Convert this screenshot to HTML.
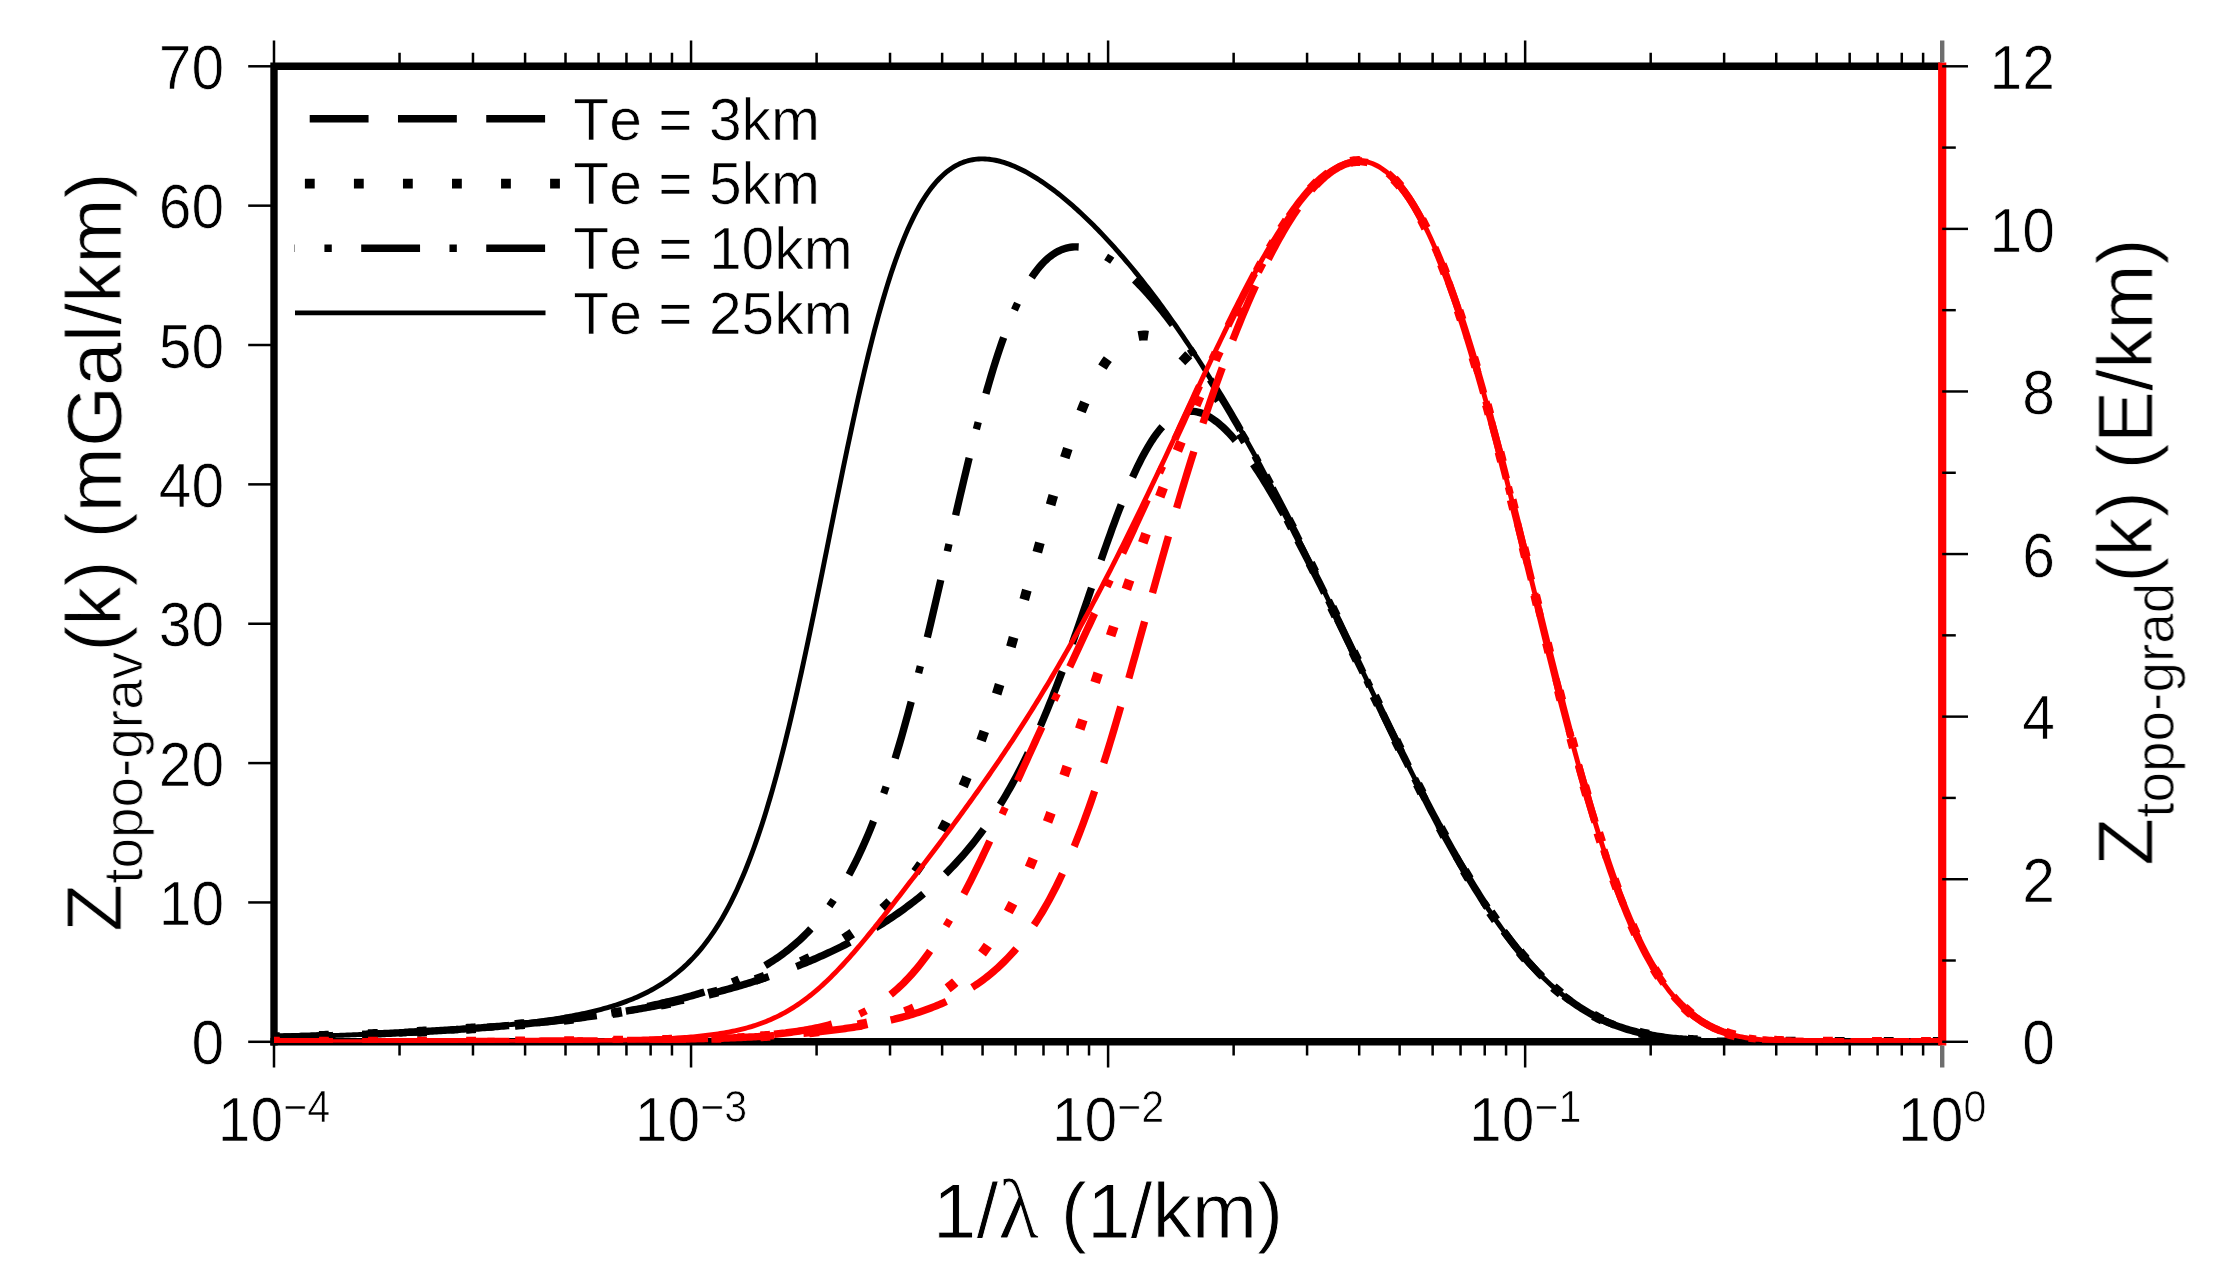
<!DOCTYPE html><html><head><meta charset="utf-8"><title>Admittance</title><style>html,body{margin:0;padding:0;background:#fff;overflow:hidden}svg{display:block}text{font-family:"Liberation Sans",sans-serif;fill:#000;stroke:#fff;stroke-width:0.7px;font-kerning:none;font-variant-ligatures:none;white-space:pre}.big{stroke-width:0.9px}</style></head><body>
<svg width="2235" height="1286" viewBox="0 0 2235 1286">
<rect width="2235" height="1286" fill="#fff"/>
<filter id="soft" x="0" y="0" width="2235" height="1286" filterUnits="userSpaceOnUse"><feGaussianBlur stdDeviation="0.6"/></filter><g filter="url(#soft)">
<g stroke="#000" stroke-width="2.5" fill="none">
<path d="M274.00 66.30 V40.50 M274.00 1041.80 V1067.60"/>
<path d="M399.54 66.30 V52.70 M399.54 1041.80 V1055.40"/>
<path d="M472.98 66.30 V52.70 M472.98 1041.80 V1055.40"/>
<path d="M525.09 66.30 V52.70 M525.09 1041.80 V1055.40"/>
<path d="M565.51 66.30 V52.70 M565.51 1041.80 V1055.40"/>
<path d="M598.53 66.30 V52.70 M598.53 1041.80 V1055.40"/>
<path d="M626.45 66.30 V52.70 M626.45 1041.80 V1055.40"/>
<path d="M650.63 66.30 V52.70 M650.63 1041.80 V1055.40"/>
<path d="M671.97 66.30 V52.70 M671.97 1041.80 V1055.40"/>
<path d="M691.05 66.30 V40.50 M691.05 1041.80 V1067.60"/>
<path d="M816.59 66.30 V52.70 M816.59 1041.80 V1055.40"/>
<path d="M890.03 66.30 V52.70 M890.03 1041.80 V1055.40"/>
<path d="M942.14 66.30 V52.70 M942.14 1041.80 V1055.40"/>
<path d="M982.56 66.30 V52.70 M982.56 1041.80 V1055.40"/>
<path d="M1015.58 66.30 V52.70 M1015.58 1041.80 V1055.40"/>
<path d="M1043.50 66.30 V52.70 M1043.50 1041.80 V1055.40"/>
<path d="M1067.68 66.30 V52.70 M1067.68 1041.80 V1055.40"/>
<path d="M1089.02 66.30 V52.70 M1089.02 1041.80 V1055.40"/>
<path d="M1108.10 66.30 V40.50 M1108.10 1041.80 V1067.60"/>
<path d="M1233.64 66.30 V52.70 M1233.64 1041.80 V1055.40"/>
<path d="M1307.08 66.30 V52.70 M1307.08 1041.80 V1055.40"/>
<path d="M1359.19 66.30 V52.70 M1359.19 1041.80 V1055.40"/>
<path d="M1399.61 66.30 V52.70 M1399.61 1041.80 V1055.40"/>
<path d="M1432.63 66.30 V52.70 M1432.63 1041.80 V1055.40"/>
<path d="M1460.55 66.30 V52.70 M1460.55 1041.80 V1055.40"/>
<path d="M1484.73 66.30 V52.70 M1484.73 1041.80 V1055.40"/>
<path d="M1506.07 66.30 V52.70 M1506.07 1041.80 V1055.40"/>
<path d="M1525.15 66.30 V40.50 M1525.15 1041.80 V1067.60"/>
<path d="M1650.69 66.30 V52.70 M1650.69 1041.80 V1055.40"/>
<path d="M1724.13 66.30 V52.70 M1724.13 1041.80 V1055.40"/>
<path d="M1776.24 66.30 V52.70 M1776.24 1041.80 V1055.40"/>
<path d="M1816.66 66.30 V52.70 M1816.66 1041.80 V1055.40"/>
<path d="M1849.68 66.30 V52.70 M1849.68 1041.80 V1055.40"/>
<path d="M1877.60 66.30 V52.70 M1877.60 1041.80 V1055.40"/>
<path d="M1901.78 66.30 V52.70 M1901.78 1041.80 V1055.40"/>
<path d="M1923.12 66.30 V52.70 M1923.12 1041.80 V1055.40"/>
<path d="M274.00 1041.80 H248.20"/>
<path d="M274.00 902.44 H248.20"/>
<path d="M274.00 763.09 H248.20"/>
<path d="M274.00 623.73 H248.20"/>
<path d="M274.00 484.37 H248.20"/>
<path d="M274.00 345.01 H248.20"/>
<path d="M274.00 205.66 H248.20"/>
<path d="M274.00 66.30 H248.20"/>
</g>
<path d="M274.00 1045.40 V66.30 H1942.20" stroke="#000" stroke-width="7.36" fill="none" stroke-linejoin="miter"/>
<path d="M270.40 1041.80 H1942.20" stroke="#000" stroke-width="7.36" fill="none"/>
<clipPath id="c"><rect x="274.00" y="66.30" width="1668.20" height="976.50"/></clipPath><g clip-path="url(#c)"><g transform="translate(0 1041.800) scale(1 1.00249) translate(0 -1041.800)">
<path d="M274.00 1037.29 L276.09 1037.24 L278.17 1037.19 L280.26 1037.14 L282.34 1037.08 L284.43 1037.03 L286.51 1036.97 L288.60 1036.92 L290.68 1036.86 L292.77 1036.81 L294.85 1036.75 L296.94 1036.69 L299.02 1036.63 L301.11 1036.57 L303.19 1036.51 L305.28 1036.45 L307.36 1036.39 L309.45 1036.33 L311.53 1036.26 L313.62 1036.20 L315.71 1036.13 L317.79 1036.07 L319.88 1036.00 L321.96 1035.94 L324.05 1035.87 L326.13 1035.80 L328.22 1035.73 L330.30 1035.66 L332.39 1035.59 L334.47 1035.52 L336.56 1035.45 L338.64 1035.38 L340.73 1035.30 L342.81 1035.23 L344.90 1035.15 L346.98 1035.07 L349.07 1035.00 L351.15 1034.92 L353.24 1034.84 L355.32 1034.76 L357.41 1034.68 L359.50 1034.60 L361.58 1034.51 L363.67 1034.43 L365.75 1034.35 L367.84 1034.26 L369.92 1034.17 L372.01 1034.09 L374.09 1034.00 L376.18 1033.91 L378.26 1033.82 L380.35 1033.73 L382.43 1033.63 L384.52 1033.54 L386.60 1033.44 L388.69 1033.35 L390.77 1033.25 L392.86 1033.15 L394.94 1033.05 L397.03 1032.95 L399.11 1032.85 L401.20 1032.75 L403.29 1032.65 L405.37 1032.54 L407.46 1032.43 L409.54 1032.33 L411.63 1032.22 L413.71 1032.11 L415.80 1032.00 L417.88 1031.89 L419.97 1031.77 L422.05 1031.66 L424.14 1031.54 L426.22 1031.42 L428.31 1031.30 L430.39 1031.18 L432.48 1031.06 L434.56 1030.94 L436.65 1030.82 L438.73 1030.69 L440.82 1030.56 L442.91 1030.43 L444.99 1030.30 L447.08 1030.17 L449.16 1030.04 L451.25 1029.91 L453.33 1029.77 L455.42 1029.63 L457.50 1029.49 L459.59 1029.35 L461.67 1029.21 L463.76 1029.07 L465.84 1028.92 L467.93 1028.77 L470.01 1028.62 L472.10 1028.47 L474.18 1028.32 L476.27 1028.17 L478.35 1028.01 L480.44 1027.86 L482.52 1027.70 L484.61 1027.54 L486.70 1027.37 L488.78 1027.21 L490.87 1027.04 L492.95 1026.87 L495.04 1026.70 L497.12 1026.53 L499.21 1026.36 L501.29 1026.18 L503.38 1026.00 L505.46 1025.82 L507.55 1025.64 L509.63 1025.46 L511.72 1025.27 L513.80 1025.08 L515.89 1024.89 L517.97 1024.70 L520.06 1024.51 L522.14 1024.31 L524.23 1024.11 L526.32 1023.91 L528.40 1023.71 L530.49 1023.50 L532.57 1023.29 L534.66 1023.08 L536.74 1022.87 L538.83 1022.66 L540.91 1022.44 L543.00 1022.22 L545.08 1022.00 L547.17 1021.77 L549.25 1021.55 L551.34 1021.32 L553.42 1021.08 L555.51 1020.85 L557.59 1020.61 L559.68 1020.37 L561.76 1020.13 L563.85 1019.89 L565.94 1019.64 L568.02 1019.39 L570.11 1019.13 L572.19 1018.88 L574.28 1018.62 L576.36 1018.36 L578.45 1018.09 L580.53 1017.82 L582.62 1017.55 L584.70 1017.28 L586.79 1017.00 L588.87 1016.72 L590.96 1016.44 L593.04 1016.15 L595.13 1015.87 L597.21 1015.57 L599.30 1015.28 L601.38 1014.98 L603.47 1014.68 L605.55 1014.37 L607.64 1014.06 L609.73 1013.75 L611.81 1013.44 L613.90 1013.12 L615.98 1012.79 L618.07 1012.47 L620.15 1012.14 L622.24 1011.81 L624.32 1011.47 L626.41 1011.13 L628.49 1010.79 L630.58 1010.44 L632.66 1010.09 L634.75 1009.73 L636.83 1009.37 L638.92 1009.01 L641.00 1008.64 L643.09 1008.27 L645.17 1007.90 L647.26 1007.52 L649.35 1007.13 L651.43 1006.75 L653.52 1006.36 L655.60 1005.96 L657.69 1005.56 L659.77 1005.16 L661.86 1004.75 L663.94 1004.33 L666.03 1003.92 L668.11 1003.50 L670.20 1003.07 L672.28 1002.64 L674.37 1002.20 L676.45 1001.76 L678.54 1001.32 L680.62 1000.87 L682.71 1000.41 L684.79 999.95 L686.88 999.49 L688.96 999.02 L691.05 998.54 L693.14 998.06 L695.22 997.58 L697.31 997.09 L699.39 996.60 L701.48 996.09 L703.56 995.59 L705.65 995.08 L707.73 994.56 L709.82 994.04 L711.90 993.51 L713.99 992.98 L716.07 992.44 L718.16 991.90 L720.24 991.35 L722.33 990.79 L724.41 990.23 L726.50 989.66 L728.58 989.08 L730.67 988.50 L732.76 987.92 L734.84 987.33 L736.93 986.73 L739.01 986.12 L741.10 985.51 L743.18 984.89 L745.27 984.27 L747.35 983.63 L749.44 983.00 L751.52 982.35 L753.61 981.70 L755.69 981.04 L757.78 980.38 L759.86 979.70 L761.95 979.02 L764.03 978.34 L766.12 977.64 L768.20 976.94 L770.29 976.23 L772.37 975.51 L774.46 974.79 L776.55 974.06 L778.63 973.32 L780.72 972.57 L782.80 971.81 L784.89 971.05 L786.97 970.27 L789.06 969.49 L791.14 968.70 L793.23 967.91 L795.31 967.10 L797.40 966.29 L799.48 965.46 L801.57 964.63 L803.65 963.79 L805.74 962.94 L807.82 962.08 L809.91 961.21 L811.99 960.33 L814.08 959.44 L816.16 958.54 L818.25 957.63 L820.34 956.71 L822.42 955.78 L824.51 954.84 L826.59 953.89 L828.68 952.93 L830.76 951.96 L832.85 950.98 L834.93 949.98 L837.02 948.98 L839.10 947.96 L841.19 946.94 L843.27 945.90 L845.36 944.84 L847.44 943.78 L849.53 942.70 L851.61 941.61 L853.70 940.51 L855.78 939.39 L857.87 938.27 L859.96 937.12 L862.04 935.97 L864.13 934.80 L866.21 933.61 L868.30 932.41 L870.38 931.20 L872.47 929.97 L874.55 928.73 L876.64 927.47 L878.72 926.19 L880.81 924.90 L882.89 923.59 L884.98 922.26 L887.06 920.92 L889.15 919.55 L891.23 918.17 L893.32 916.78 L895.40 915.36 L897.49 913.92 L899.58 912.46 L901.66 910.99 L903.75 909.49 L905.83 907.97 L907.92 906.43 L910.00 904.87 L912.09 903.28 L914.17 901.67 L916.26 900.04 L918.34 898.38 L920.43 896.70 L922.51 894.99 L924.60 893.26 L926.68 891.50 L928.77 889.71 L930.85 887.89 L932.94 886.04 L935.02 884.17 L937.11 882.26 L939.19 880.32 L941.28 878.35 L943.37 876.35 L945.45 874.31 L947.54 872.24 L949.62 870.13 L951.71 867.98 L953.79 865.80 L955.88 863.58 L957.96 861.32 L960.05 859.02 L962.13 856.67 L964.22 854.29 L966.30 851.86 L968.39 849.38 L970.47 846.86 L972.56 844.29 L974.64 841.67 L976.73 839.00 L978.81 836.28 L980.90 833.51 L982.99 830.68 L985.07 827.80 L987.16 824.87 L989.24 821.87 L991.33 818.82 L993.41 815.70 L995.50 812.53 L997.58 809.29 L999.67 805.98 L1001.75 802.61 L1003.84 799.18 L1005.92 795.67 L1008.01 792.10 L1010.09 788.45 L1012.18 784.73 L1014.26 780.94 L1016.35 777.08 L1018.43 773.14 L1020.52 769.12 L1022.60 765.03 L1024.69 760.86 L1026.78 756.61 L1028.86 752.28 L1030.95 747.87 L1033.03 743.38 L1035.12 738.81 L1037.20 734.15 L1039.29 729.42 L1041.37 724.61 L1043.46 719.72 L1045.54 714.74 L1047.63 709.69 L1049.71 704.56 L1051.80 699.36 L1053.88 694.07 L1055.97 688.72 L1058.05 683.29 L1060.14 677.79 L1062.22 672.23 L1064.31 666.60 L1066.40 660.91 L1068.48 655.16 L1070.57 649.36 L1072.65 643.50 L1074.74 637.60 L1076.82 631.65 L1078.91 625.67 L1080.99 619.66 L1083.08 613.61 L1085.16 607.55 L1087.25 601.47 L1089.33 595.38 L1091.42 589.28 L1093.50 583.19 L1095.59 577.11 L1097.67 571.04 L1099.76 565.00 L1101.84 558.99 L1103.93 553.01 L1106.01 547.08 L1108.10 541.20 L1110.19 535.39 L1112.27 529.64 L1114.36 523.96 L1116.44 518.37 L1118.53 512.87 L1120.61 507.46 L1122.70 502.16 L1124.78 496.96 L1126.87 491.89 L1128.95 486.93 L1131.04 482.11 L1133.12 477.42 L1135.21 472.87 L1137.29 468.47 L1139.38 464.22 L1141.46 460.12 L1143.55 456.18 L1145.63 452.40 L1147.72 448.78 L1149.81 445.34 L1151.89 442.07 L1153.98 438.96 L1156.06 436.04 L1158.15 433.29 L1160.23 430.71 L1162.32 428.31 L1164.40 426.09 L1166.49 424.05 L1168.57 422.19 L1170.66 420.49 L1172.74 418.98 L1174.83 417.64 L1176.91 416.46 L1179.00 415.46 L1181.08 414.63 L1183.17 413.96 L1185.25 413.45 L1187.34 413.11 L1189.42 412.92 L1191.51 412.88 L1193.60 413.00 L1195.68 413.26 L1197.77 413.67 L1199.85 414.22 L1201.94 414.90 L1204.02 415.73 L1206.11 416.68 L1208.19 417.76 L1210.28 418.96 L1212.36 420.28 L1214.45 421.72 L1216.53 423.27 L1218.62 424.93 L1220.70 426.70 L1222.79 428.57 L1224.87 430.55 L1226.96 432.61 L1229.04 434.78 L1231.13 437.03 L1233.22 439.37 L1235.30 441.79 L1237.39 444.30 L1239.47 446.88 L1241.56 449.54 L1243.64 452.27 L1245.73 455.08 L1247.81 457.95 L1249.90 460.89 L1251.98 463.89 L1254.07 466.95 L1256.15 470.07 L1258.24 473.25 L1260.32 476.48 L1262.41 479.77 L1264.49 483.11 L1266.58 486.49 L1268.66 489.93 L1270.75 493.40 L1272.83 496.92 L1274.92 500.49 L1277.01 504.09 L1279.09 507.74 L1281.18 511.42 L1283.26 515.13 L1285.35 518.89 L1287.43 522.67 L1289.52 526.49 L1291.60 530.34 L1293.69 534.21 L1295.77 538.12 L1297.86 542.05 L1299.94 546.01 L1302.03 550.00 L1304.11 554.01 L1306.20 558.04 L1308.28 562.09 L1310.37 566.17 L1312.45 570.26 L1314.54 574.38 L1316.62 578.51 L1318.71 582.66 L1320.80 586.83 L1322.88 591.01 L1324.97 595.21 L1327.05 599.42 L1329.14 603.64 L1331.22 607.88 L1333.31 612.13 L1335.39 616.39 L1337.48 620.66 L1339.56 624.94 L1341.65 629.23 L1343.73 633.52 L1345.82 637.82 L1347.90 642.13 L1349.99 646.45 L1352.07 650.77 L1354.16 655.09 L1356.24 659.42 L1358.33 663.75 L1360.42 668.08 L1362.50 672.41 L1364.59 676.75 L1366.67 681.08 L1368.76 685.41 L1370.84 689.74 L1372.93 694.07 L1375.01 698.40 L1377.10 702.72 L1379.18 707.04 L1381.27 711.35 L1383.35 715.66 L1385.44 719.96 L1387.52 724.25 L1389.61 728.54 L1391.69 732.82 L1393.78 737.08 L1395.86 741.34 L1397.95 745.59 L1400.04 749.82 L1402.12 754.05 L1404.21 758.26 L1406.29 762.45 L1408.38 766.63 L1410.46 770.80 L1412.55 774.95 L1414.63 779.09 L1416.72 783.21 L1418.80 787.31 L1420.89 791.39 L1422.97 795.45 L1425.06 799.49 L1427.14 803.52 L1429.23 807.52 L1431.31 811.50 L1433.40 815.45 L1435.48 819.39 L1437.57 823.30 L1439.65 827.18 L1441.74 831.04 L1443.83 834.87 L1445.91 838.68 L1448.00 842.46 L1450.08 846.21 L1452.17 849.94 L1454.25 853.63 L1456.34 857.30 L1458.42 860.94 L1460.51 864.54 L1462.59 868.11 L1464.68 871.65 L1466.76 875.16 L1468.85 878.64 L1470.93 882.08 L1473.02 885.49 L1475.10 888.87 L1477.19 892.20 L1479.27 895.51 L1481.36 898.78 L1483.44 902.01 L1485.53 905.20 L1487.62 908.36 L1489.70 911.48 L1491.79 914.56 L1493.87 917.60 L1495.96 920.61 L1498.04 923.57 L1500.13 926.50 L1502.21 929.38 L1504.30 932.23 L1506.38 935.03 L1508.47 937.80 L1510.55 940.52 L1512.64 943.21 L1514.72 945.85 L1516.81 948.45 L1518.89 951.01 L1520.98 953.52 L1523.06 956.00 L1525.15 958.43 L1527.24 960.82 L1529.32 963.17 L1531.41 965.48 L1533.49 967.74 L1535.58 969.97 L1537.66 972.15 L1539.75 974.29 L1541.83 976.38 L1543.92 978.44 L1546.00 980.45 L1548.09 982.42 L1550.17 984.35 L1552.26 986.24 L1554.34 988.08 L1556.43 989.89 L1558.51 991.65 L1560.60 993.38 L1562.68 995.06 L1564.77 996.71 L1566.86 998.31 L1568.94 999.88 L1571.03 1001.40 L1573.11 1002.89 L1575.20 1004.34 L1577.28 1005.75 L1579.37 1007.12 L1581.45 1008.45 L1583.54 1009.75 L1585.62 1011.01 L1587.71 1012.24 L1589.79 1013.43 L1591.88 1014.59 L1593.96 1015.71 L1596.05 1016.79 L1598.13 1017.85 L1600.22 1018.87 L1602.30 1019.86 L1604.39 1020.81 L1606.47 1021.74 L1608.56 1022.63 L1610.65 1023.50 L1612.73 1024.33 L1614.82 1025.14 L1616.90 1025.91 L1618.99 1026.66 L1621.07 1027.38 L1623.16 1028.08 L1625.24 1028.75 L1627.33 1029.39 L1629.41 1030.01 L1631.50 1030.60 L1633.58 1031.18 L1635.67 1031.72 L1637.75 1032.25 L1639.84 1032.75 L1641.92 1033.24 L1644.01 1033.70 L1646.09 1034.14 L1648.18 1034.56 L1650.27 1034.97 L1652.35 1035.35 L1654.44 1035.72 L1656.52 1036.07 L1658.61 1036.40 L1660.69 1036.72 L1662.78 1037.03 L1664.86 1037.31 L1666.95 1037.59 L1669.03 1037.85 L1671.12 1038.09 L1673.20 1038.33 L1675.29 1038.55 L1677.37 1038.76 L1679.46 1038.96 L1681.54 1039.14 L1683.63 1039.32 L1685.71 1039.49 L1687.80 1039.65 L1689.88 1039.79 L1691.97 1039.93 L1694.06 1040.07 L1696.14 1040.19 L1698.23 1040.31 L1700.31 1040.41 L1702.40 1040.52 L1704.48 1040.61 L1706.57 1040.70 L1708.65 1040.79 L1710.74 1040.86 L1712.82 1040.94 L1714.91 1041.00 L1716.99 1041.07 L1719.08 1041.13 L1721.16 1041.18 L1723.25 1041.23 L1725.33 1041.28 L1727.42 1041.32 L1729.50 1041.36 L1731.59 1041.40 L1733.67 1041.44 L1735.76 1041.47 L1737.85 1041.50 L1739.93 1041.52 L1742.02 1041.55 L1744.10 1041.57 L1746.19 1041.59 L1748.27 1041.61 L1750.36 1041.63 L1752.44 1041.65 L1754.53 1041.66 L1756.61 1041.68 L1758.70 1041.69 L1760.78 1041.70 L1762.87 1041.71 L1764.95 1041.72 L1767.04 1041.73 L1769.12 1041.73 L1771.21 1041.74 L1773.29 1041.75 L1775.38 1041.75 L1777.47 1041.76 L1779.55 1041.76 L1781.64 1041.77 L1783.72 1041.77 L1785.81 1041.77 L1787.89 1041.78 L1789.98 1041.78 L1792.06 1041.78 L1794.15 1041.78 L1796.23 1041.79 L1798.32 1041.79 L1800.40 1041.79 L1802.49 1041.79 L1804.57 1041.79 L1806.66 1041.79 L1808.74 1041.79 L1810.83 1041.79 L1812.91 1041.80 L1815.00 1041.80 L1817.09 1041.80 L1819.17 1041.80 L1821.26 1041.80 L1823.34 1041.80 L1825.43 1041.80 L1827.51 1041.80 L1829.60 1041.80 L1831.68 1041.80 L1833.77 1041.80 L1835.85 1041.80 L1837.94 1041.80 L1840.02 1041.80 L1842.11 1041.80 L1844.19 1041.80 L1846.28 1041.80 L1848.36 1041.80 L1850.45 1041.80 L1852.53 1041.80 L1854.62 1041.80 L1856.70 1041.80 L1858.79 1041.80 L1860.88 1041.80 L1862.96 1041.80 L1865.05 1041.80 L1867.13 1041.80 L1869.22 1041.80 L1871.30 1041.80 L1873.39 1041.80 L1875.47 1041.80 L1877.56 1041.80 L1879.64 1041.80 L1881.73 1041.80 L1883.81 1041.80 L1885.90 1041.80 L1887.98 1041.80 L1890.07 1041.80 L1892.15 1041.80 L1894.24 1041.80 L1896.32 1041.80 L1898.41 1041.80 L1900.50 1041.80 L1902.58 1041.80 L1904.67 1041.80 L1906.75 1041.80 L1908.84 1041.80 L1910.92 1041.80 L1913.01 1041.80 L1915.09 1041.80 L1917.18 1041.80 L1919.26 1041.80 L1921.35 1041.80 L1923.43 1041.80 L1925.52 1041.80 L1927.60 1041.80 L1929.69 1041.80 L1931.77 1041.80 L1933.86 1041.80 L1935.94 1041.80 L1938.03 1041.80 L1940.11 1041.80 L1942.20 1041.80" stroke="#000" stroke-width="7.36" fill="none" stroke-dasharray="58.85 29.42" stroke-dashoffset="0.0"/>
<path d="M274.00 1037.29 L276.09 1037.24 L278.17 1037.19 L280.26 1037.14 L282.34 1037.08 L284.43 1037.03 L286.51 1036.97 L288.60 1036.92 L290.68 1036.86 L292.77 1036.81 L294.85 1036.75 L296.94 1036.69 L299.02 1036.63 L301.11 1036.57 L303.19 1036.51 L305.28 1036.45 L307.36 1036.39 L309.45 1036.33 L311.53 1036.26 L313.62 1036.20 L315.71 1036.13 L317.79 1036.07 L319.88 1036.00 L321.96 1035.94 L324.05 1035.87 L326.13 1035.80 L328.22 1035.73 L330.30 1035.66 L332.39 1035.59 L334.47 1035.52 L336.56 1035.45 L338.64 1035.38 L340.73 1035.30 L342.81 1035.23 L344.90 1035.15 L346.98 1035.07 L349.07 1035.00 L351.15 1034.92 L353.24 1034.84 L355.32 1034.76 L357.41 1034.68 L359.50 1034.60 L361.58 1034.51 L363.67 1034.43 L365.75 1034.35 L367.84 1034.26 L369.92 1034.17 L372.01 1034.09 L374.09 1034.00 L376.18 1033.91 L378.26 1033.82 L380.35 1033.73 L382.43 1033.63 L384.52 1033.54 L386.60 1033.44 L388.69 1033.35 L390.77 1033.25 L392.86 1033.15 L394.94 1033.05 L397.03 1032.95 L399.11 1032.85 L401.20 1032.75 L403.29 1032.65 L405.37 1032.54 L407.46 1032.43 L409.54 1032.33 L411.63 1032.22 L413.71 1032.11 L415.80 1032.00 L417.88 1031.89 L419.97 1031.77 L422.05 1031.66 L424.14 1031.54 L426.22 1031.42 L428.31 1031.30 L430.39 1031.18 L432.48 1031.06 L434.56 1030.94 L436.65 1030.81 L438.73 1030.69 L440.82 1030.56 L442.91 1030.43 L444.99 1030.30 L447.08 1030.17 L449.16 1030.04 L451.25 1029.90 L453.33 1029.77 L455.42 1029.63 L457.50 1029.49 L459.59 1029.35 L461.67 1029.21 L463.76 1029.06 L465.84 1028.92 L467.93 1028.77 L470.01 1028.62 L472.10 1028.47 L474.18 1028.32 L476.27 1028.17 L478.35 1028.01 L480.44 1027.85 L482.52 1027.69 L484.61 1027.53 L486.70 1027.37 L488.78 1027.21 L490.87 1027.04 L492.95 1026.87 L495.04 1026.70 L497.12 1026.53 L499.21 1026.35 L501.29 1026.18 L503.38 1026.00 L505.46 1025.82 L507.55 1025.64 L509.63 1025.45 L511.72 1025.27 L513.80 1025.08 L515.89 1024.89 L517.97 1024.70 L520.06 1024.50 L522.14 1024.30 L524.23 1024.11 L526.32 1023.90 L528.40 1023.70 L530.49 1023.49 L532.57 1023.29 L534.66 1023.08 L536.74 1022.86 L538.83 1022.65 L540.91 1022.43 L543.00 1022.21 L545.08 1021.99 L547.17 1021.76 L549.25 1021.54 L551.34 1021.31 L553.42 1021.07 L555.51 1020.84 L557.59 1020.60 L559.68 1020.36 L561.76 1020.12 L563.85 1019.87 L565.94 1019.62 L568.02 1019.37 L570.11 1019.12 L572.19 1018.86 L574.28 1018.60 L576.36 1018.34 L578.45 1018.07 L580.53 1017.80 L582.62 1017.53 L584.70 1017.25 L586.79 1016.98 L588.87 1016.70 L590.96 1016.41 L593.04 1016.12 L595.13 1015.83 L597.21 1015.54 L599.30 1015.24 L601.38 1014.94 L603.47 1014.64 L605.55 1014.33 L607.64 1014.02 L609.73 1013.71 L611.81 1013.39 L613.90 1013.07 L615.98 1012.75 L618.07 1012.42 L620.15 1012.09 L622.24 1011.75 L624.32 1011.41 L626.41 1011.07 L628.49 1010.72 L630.58 1010.37 L632.66 1010.02 L634.75 1009.66 L636.83 1009.30 L638.92 1008.93 L641.00 1008.56 L643.09 1008.18 L645.17 1007.80 L647.26 1007.42 L649.35 1007.03 L651.43 1006.64 L653.52 1006.25 L655.60 1005.84 L657.69 1005.44 L659.77 1005.03 L661.86 1004.61 L663.94 1004.20 L666.03 1003.77 L668.11 1003.34 L670.20 1002.91 L672.28 1002.47 L674.37 1002.03 L676.45 1001.58 L678.54 1001.13 L680.62 1000.67 L682.71 1000.20 L684.79 999.73 L686.88 999.26 L688.96 998.78 L691.05 998.29 L693.14 997.80 L695.22 997.31 L697.31 996.80 L699.39 996.29 L701.48 995.78 L703.56 995.26 L705.65 994.73 L707.73 994.20 L709.82 993.66 L711.90 993.12 L713.99 992.57 L716.07 992.01 L718.16 991.44 L720.24 990.87 L722.33 990.30 L724.41 989.71 L726.50 989.12 L728.58 988.52 L730.67 987.91 L732.76 987.30 L734.84 986.68 L736.93 986.05 L739.01 985.41 L741.10 984.77 L743.18 984.12 L745.27 983.46 L747.35 982.79 L749.44 982.11 L751.52 981.43 L753.61 980.73 L755.69 980.03 L757.78 979.32 L759.86 978.59 L761.95 977.86 L764.03 977.12 L766.12 976.37 L768.20 975.61 L770.29 974.84 L772.37 974.06 L774.46 973.27 L776.55 972.47 L778.63 971.66 L780.72 970.83 L782.80 970.00 L784.89 969.15 L786.97 968.29 L789.06 967.42 L791.14 966.54 L793.23 965.64 L795.31 964.73 L797.40 963.81 L799.48 962.87 L801.57 961.92 L803.65 960.96 L805.74 959.98 L807.82 958.99 L809.91 957.98 L811.99 956.95 L814.08 955.91 L816.16 954.85 L818.25 953.78 L820.34 952.68 L822.42 951.57 L824.51 950.44 L826.59 949.30 L828.68 948.13 L830.76 946.94 L832.85 945.73 L834.93 944.51 L837.02 943.25 L839.10 941.98 L841.19 940.69 L843.27 939.37 L845.36 938.02 L847.44 936.66 L849.53 935.26 L851.61 933.84 L853.70 932.39 L855.78 930.92 L857.87 929.42 L859.96 927.88 L862.04 926.32 L864.13 924.72 L866.21 923.09 L868.30 921.43 L870.38 919.73 L872.47 918.00 L874.55 916.23 L876.64 914.43 L878.72 912.58 L880.81 910.70 L882.89 908.77 L884.98 906.80 L887.06 904.79 L889.15 902.73 L891.23 900.63 L893.32 898.47 L895.40 896.27 L897.49 894.02 L899.58 891.71 L901.66 889.35 L903.75 886.94 L905.83 884.46 L907.92 881.93 L910.00 879.34 L912.09 876.68 L914.17 873.96 L916.26 871.18 L918.34 868.32 L920.43 865.40 L922.51 862.40 L924.60 859.33 L926.68 856.19 L928.77 852.96 L930.85 849.66 L932.94 846.28 L935.02 842.81 L937.11 839.25 L939.19 835.61 L941.28 831.88 L943.37 828.06 L945.45 824.14 L947.54 820.13 L949.62 816.02 L951.71 811.81 L953.79 807.50 L955.88 803.09 L957.96 798.58 L960.05 793.96 L962.13 789.23 L964.22 784.40 L966.30 779.45 L968.39 774.40 L970.47 769.23 L972.56 763.96 L974.64 758.57 L976.73 753.06 L978.81 747.45 L980.90 741.73 L982.99 735.89 L985.07 729.94 L987.16 723.88 L989.24 717.71 L991.33 711.44 L993.41 705.06 L995.50 698.58 L997.58 691.99 L999.67 685.31 L1001.75 678.54 L1003.84 671.67 L1005.92 664.72 L1008.01 657.68 L1010.09 650.57 L1012.18 643.38 L1014.26 636.13 L1016.35 628.81 L1018.43 621.44 L1020.52 614.02 L1022.60 606.55 L1024.69 599.06 L1026.78 591.53 L1028.86 583.99 L1030.95 576.43 L1033.03 568.87 L1035.12 561.31 L1037.20 553.77 L1039.29 546.24 L1041.37 538.75 L1043.46 531.30 L1045.54 523.90 L1047.63 516.55 L1049.71 509.27 L1051.80 502.06 L1053.88 494.94 L1055.97 487.90 L1058.05 480.97 L1060.14 474.15 L1062.22 467.44 L1064.31 460.85 L1066.40 454.40 L1068.48 448.08 L1070.57 441.91 L1072.65 435.89 L1074.74 430.02 L1076.82 424.32 L1078.91 418.78 L1080.99 413.41 L1083.08 408.22 L1085.16 403.20 L1087.25 398.37 L1089.33 393.72 L1091.42 389.25 L1093.50 384.98 L1095.59 380.89 L1097.67 377.00 L1099.76 373.29 L1101.84 369.78 L1103.93 366.46 L1106.01 363.33 L1108.10 360.38 L1110.19 357.63 L1112.27 355.06 L1114.36 352.68 L1116.44 350.48 L1118.53 348.46 L1120.61 346.62 L1122.70 344.95 L1124.78 343.46 L1126.87 342.13 L1128.95 340.98 L1131.04 339.98 L1133.12 339.15 L1135.21 338.47 L1137.29 337.94 L1139.38 337.56 L1141.46 337.33 L1143.55 337.24 L1145.63 337.29 L1147.72 337.47 L1149.81 337.78 L1151.89 338.22 L1153.98 338.79 L1156.06 339.47 L1158.15 340.27 L1160.23 341.19 L1162.32 342.21 L1164.40 343.34 L1166.49 344.58 L1168.57 345.91 L1170.66 347.35 L1172.74 348.87 L1174.83 350.49 L1176.91 352.20 L1179.00 353.99 L1181.08 355.86 L1183.17 357.81 L1185.25 359.85 L1187.34 361.95 L1189.42 364.13 L1191.51 366.38 L1193.60 368.70 L1195.68 371.09 L1197.77 373.53 L1199.85 376.05 L1201.94 378.62 L1204.02 381.25 L1206.11 383.93 L1208.19 386.67 L1210.28 389.47 L1212.36 392.31 L1214.45 395.21 L1216.53 398.15 L1218.62 401.14 L1220.70 404.18 L1222.79 407.26 L1224.87 410.38 L1226.96 413.55 L1229.04 416.76 L1231.13 420.00 L1233.22 423.29 L1235.30 426.61 L1237.39 429.97 L1239.47 433.37 L1241.56 436.80 L1243.64 440.26 L1245.73 443.76 L1247.81 447.28 L1249.90 450.84 L1251.98 454.43 L1254.07 458.05 L1256.15 461.70 L1258.24 465.38 L1260.32 469.08 L1262.41 472.81 L1264.49 476.57 L1266.58 480.35 L1268.66 484.16 L1270.75 487.99 L1272.83 491.85 L1274.92 495.73 L1277.01 499.63 L1279.09 503.55 L1281.18 507.49 L1283.26 511.46 L1285.35 515.44 L1287.43 519.45 L1289.52 523.47 L1291.60 527.51 L1293.69 531.57 L1295.77 535.65 L1297.86 539.75 L1299.94 543.86 L1302.03 547.98 L1304.11 552.12 L1306.20 556.28 L1308.28 560.45 L1310.37 564.64 L1312.45 568.84 L1314.54 573.05 L1316.62 577.27 L1318.71 581.50 L1320.80 585.75 L1322.88 590.01 L1324.97 594.27 L1327.05 598.55 L1329.14 602.84 L1331.22 607.13 L1333.31 611.43 L1335.39 615.74 L1337.48 620.06 L1339.56 624.38 L1341.65 628.71 L1343.73 633.04 L1345.82 637.38 L1347.90 641.72 L1349.99 646.06 L1352.07 650.41 L1354.16 654.76 L1356.24 659.11 L1358.33 663.46 L1360.42 667.82 L1362.50 672.17 L1364.59 676.52 L1366.67 680.87 L1368.76 685.22 L1370.84 689.57 L1372.93 693.91 L1375.01 698.25 L1377.10 702.58 L1379.18 706.91 L1381.27 711.23 L1383.35 715.55 L1385.44 719.86 L1387.52 724.16 L1389.61 728.45 L1391.69 732.74 L1393.78 737.01 L1395.86 741.27 L1397.95 745.53 L1400.04 749.77 L1402.12 753.99 L1404.21 758.21 L1406.29 762.41 L1408.38 766.60 L1410.46 770.77 L1412.55 774.92 L1414.63 779.06 L1416.72 783.18 L1418.80 787.28 L1420.89 791.37 L1422.97 795.43 L1425.06 799.47 L1427.14 803.50 L1429.23 807.50 L1431.31 811.48 L1433.40 815.44 L1435.48 819.37 L1437.57 823.29 L1439.65 827.17 L1441.74 831.03 L1443.83 834.87 L1445.91 838.67 L1448.00 842.46 L1450.08 846.21 L1452.17 849.93 L1454.25 853.63 L1456.34 857.30 L1458.42 860.93 L1460.51 864.54 L1462.59 868.11 L1464.68 871.65 L1466.76 875.16 L1468.85 878.64 L1470.93 882.08 L1473.02 885.49 L1475.10 888.86 L1477.19 892.20 L1479.27 895.51 L1481.36 898.77 L1483.44 902.01 L1485.53 905.20 L1487.62 908.36 L1489.70 911.48 L1491.79 914.56 L1493.87 917.60 L1495.96 920.61 L1498.04 923.57 L1500.13 926.50 L1502.21 929.38 L1504.30 932.23 L1506.38 935.03 L1508.47 937.80 L1510.55 940.52 L1512.64 943.21 L1514.72 945.85 L1516.81 948.45 L1518.89 951.01 L1520.98 953.52 L1523.06 956.00 L1525.15 958.43 L1527.24 960.82 L1529.32 963.17 L1531.41 965.48 L1533.49 967.74 L1535.58 969.97 L1537.66 972.15 L1539.75 974.29 L1541.83 976.38 L1543.92 978.44 L1546.00 980.45 L1548.09 982.42 L1550.17 984.35 L1552.26 986.24 L1554.34 988.08 L1556.43 989.89 L1558.51 991.65 L1560.60 993.38 L1562.68 995.06 L1564.77 996.71 L1566.86 998.31 L1568.94 999.88 L1571.03 1001.40 L1573.11 1002.89 L1575.20 1004.34 L1577.28 1005.75 L1579.37 1007.12 L1581.45 1008.45 L1583.54 1009.75 L1585.62 1011.01 L1587.71 1012.24 L1589.79 1013.43 L1591.88 1014.59 L1593.96 1015.71 L1596.05 1016.79 L1598.13 1017.85 L1600.22 1018.87 L1602.30 1019.86 L1604.39 1020.81 L1606.47 1021.74 L1608.56 1022.63 L1610.65 1023.50 L1612.73 1024.33 L1614.82 1025.14 L1616.90 1025.91 L1618.99 1026.66 L1621.07 1027.38 L1623.16 1028.08 L1625.24 1028.75 L1627.33 1029.39 L1629.41 1030.01 L1631.50 1030.60 L1633.58 1031.18 L1635.67 1031.72 L1637.75 1032.25 L1639.84 1032.75 L1641.92 1033.24 L1644.01 1033.70 L1646.09 1034.14 L1648.18 1034.56 L1650.27 1034.97 L1652.35 1035.35 L1654.44 1035.72 L1656.52 1036.07 L1658.61 1036.40 L1660.69 1036.72 L1662.78 1037.03 L1664.86 1037.31 L1666.95 1037.59 L1669.03 1037.85 L1671.12 1038.09 L1673.20 1038.33 L1675.29 1038.55 L1677.37 1038.76 L1679.46 1038.96 L1681.54 1039.14 L1683.63 1039.32 L1685.71 1039.49 L1687.80 1039.65 L1689.88 1039.79 L1691.97 1039.93 L1694.06 1040.07 L1696.14 1040.19 L1698.23 1040.31 L1700.31 1040.41 L1702.40 1040.52 L1704.48 1040.61 L1706.57 1040.70 L1708.65 1040.79 L1710.74 1040.86 L1712.82 1040.94 L1714.91 1041.00 L1716.99 1041.07 L1719.08 1041.13 L1721.16 1041.18 L1723.25 1041.23 L1725.33 1041.28 L1727.42 1041.32 L1729.50 1041.36 L1731.59 1041.40 L1733.67 1041.44 L1735.76 1041.47 L1737.85 1041.50 L1739.93 1041.52 L1742.02 1041.55 L1744.10 1041.57 L1746.19 1041.59 L1748.27 1041.61 L1750.36 1041.63 L1752.44 1041.65 L1754.53 1041.66 L1756.61 1041.68 L1758.70 1041.69 L1760.78 1041.70 L1762.87 1041.71 L1764.95 1041.72 L1767.04 1041.73 L1769.12 1041.73 L1771.21 1041.74 L1773.29 1041.75 L1775.38 1041.75 L1777.47 1041.76 L1779.55 1041.76 L1781.64 1041.77 L1783.72 1041.77 L1785.81 1041.77 L1787.89 1041.78 L1789.98 1041.78 L1792.06 1041.78 L1794.15 1041.78 L1796.23 1041.79 L1798.32 1041.79 L1800.40 1041.79 L1802.49 1041.79 L1804.57 1041.79 L1806.66 1041.79 L1808.74 1041.79 L1810.83 1041.79 L1812.91 1041.80 L1815.00 1041.80 L1817.09 1041.80 L1819.17 1041.80 L1821.26 1041.80 L1823.34 1041.80 L1825.43 1041.80 L1827.51 1041.80 L1829.60 1041.80 L1831.68 1041.80 L1833.77 1041.80 L1835.85 1041.80 L1837.94 1041.80 L1840.02 1041.80 L1842.11 1041.80 L1844.19 1041.80 L1846.28 1041.80 L1848.36 1041.80 L1850.45 1041.80 L1852.53 1041.80 L1854.62 1041.80 L1856.70 1041.80 L1858.79 1041.80 L1860.88 1041.80 L1862.96 1041.80 L1865.05 1041.80 L1867.13 1041.80 L1869.22 1041.80 L1871.30 1041.80 L1873.39 1041.80 L1875.47 1041.80 L1877.56 1041.80 L1879.64 1041.80 L1881.73 1041.80 L1883.81 1041.80 L1885.90 1041.80 L1887.98 1041.80 L1890.07 1041.80 L1892.15 1041.80 L1894.24 1041.80 L1896.32 1041.80 L1898.41 1041.80 L1900.50 1041.80 L1902.58 1041.80 L1904.67 1041.80 L1906.75 1041.80 L1908.84 1041.80 L1910.92 1041.80 L1913.01 1041.80 L1915.09 1041.80 L1917.18 1041.80 L1919.26 1041.80 L1921.35 1041.80 L1923.43 1041.80 L1925.52 1041.80 L1927.60 1041.80 L1929.69 1041.80 L1931.77 1041.80 L1933.86 1041.80 L1935.94 1041.80 L1938.03 1041.80 L1940.11 1041.80 L1942.20 1041.80" stroke="#000" stroke-width="9.81" fill="none" stroke-dasharray="9.81 39.23" stroke-dashoffset="4.0"/>
<path d="M274.00 1037.29 L276.09 1037.24 L278.17 1037.19 L280.26 1037.14 L282.34 1037.08 L284.43 1037.03 L286.51 1036.97 L288.60 1036.92 L290.68 1036.86 L292.77 1036.80 L294.85 1036.75 L296.94 1036.69 L299.02 1036.63 L301.11 1036.57 L303.19 1036.51 L305.28 1036.45 L307.36 1036.39 L309.45 1036.33 L311.53 1036.26 L313.62 1036.20 L315.71 1036.13 L317.79 1036.07 L319.88 1036.00 L321.96 1035.94 L324.05 1035.87 L326.13 1035.80 L328.22 1035.73 L330.30 1035.66 L332.39 1035.59 L334.47 1035.52 L336.56 1035.45 L338.64 1035.37 L340.73 1035.30 L342.81 1035.23 L344.90 1035.15 L346.98 1035.07 L349.07 1035.00 L351.15 1034.92 L353.24 1034.84 L355.32 1034.76 L357.41 1034.68 L359.50 1034.60 L361.58 1034.51 L363.67 1034.43 L365.75 1034.34 L367.84 1034.26 L369.92 1034.17 L372.01 1034.08 L374.09 1034.00 L376.18 1033.91 L378.26 1033.81 L380.35 1033.72 L382.43 1033.63 L384.52 1033.54 L386.60 1033.44 L388.69 1033.35 L390.77 1033.25 L392.86 1033.15 L394.94 1033.05 L397.03 1032.95 L399.11 1032.85 L401.20 1032.75 L403.29 1032.64 L405.37 1032.54 L407.46 1032.43 L409.54 1032.32 L411.63 1032.21 L413.71 1032.10 L415.80 1031.99 L417.88 1031.88 L419.97 1031.77 L422.05 1031.65 L424.14 1031.53 L426.22 1031.42 L428.31 1031.30 L430.39 1031.18 L432.48 1031.05 L434.56 1030.93 L436.65 1030.81 L438.73 1030.68 L440.82 1030.55 L442.91 1030.42 L444.99 1030.29 L447.08 1030.16 L449.16 1030.03 L451.25 1029.89 L453.33 1029.76 L455.42 1029.62 L457.50 1029.48 L459.59 1029.34 L461.67 1029.19 L463.76 1029.05 L465.84 1028.90 L467.93 1028.75 L470.01 1028.60 L472.10 1028.45 L474.18 1028.30 L476.27 1028.15 L478.35 1027.99 L480.44 1027.83 L482.52 1027.67 L484.61 1027.51 L486.70 1027.34 L488.78 1027.18 L490.87 1027.01 L492.95 1026.84 L495.04 1026.67 L497.12 1026.50 L499.21 1026.32 L501.29 1026.14 L503.38 1025.96 L505.46 1025.78 L507.55 1025.60 L509.63 1025.41 L511.72 1025.22 L513.80 1025.03 L515.89 1024.84 L517.97 1024.64 L520.06 1024.45 L522.14 1024.25 L524.23 1024.05 L526.32 1023.84 L528.40 1023.64 L530.49 1023.43 L532.57 1023.22 L534.66 1023.00 L536.74 1022.79 L538.83 1022.57 L540.91 1022.35 L543.00 1022.12 L545.08 1021.90 L547.17 1021.67 L549.25 1021.43 L551.34 1021.20 L553.42 1020.96 L555.51 1020.72 L557.59 1020.48 L559.68 1020.23 L561.76 1019.98 L563.85 1019.73 L565.94 1019.47 L568.02 1019.22 L570.11 1018.96 L572.19 1018.69 L574.28 1018.42 L576.36 1018.15 L578.45 1017.88 L580.53 1017.60 L582.62 1017.32 L584.70 1017.03 L586.79 1016.75 L588.87 1016.45 L590.96 1016.16 L593.04 1015.86 L595.13 1015.56 L597.21 1015.25 L599.30 1014.94 L601.38 1014.63 L603.47 1014.31 L605.55 1013.99 L607.64 1013.66 L609.73 1013.33 L611.81 1012.99 L613.90 1012.65 L615.98 1012.31 L618.07 1011.96 L620.15 1011.61 L622.24 1011.25 L624.32 1010.89 L626.41 1010.52 L628.49 1010.15 L630.58 1009.77 L632.66 1009.39 L634.75 1009.00 L636.83 1008.61 L638.92 1008.21 L641.00 1007.81 L643.09 1007.40 L645.17 1006.98 L647.26 1006.56 L649.35 1006.13 L651.43 1005.70 L653.52 1005.26 L655.60 1004.81 L657.69 1004.36 L659.77 1003.90 L661.86 1003.43 L663.94 1002.96 L666.03 1002.47 L668.11 1001.99 L670.20 1001.49 L672.28 1000.98 L674.37 1000.47 L676.45 999.95 L678.54 999.42 L680.62 998.89 L682.71 998.34 L684.79 997.78 L686.88 997.22 L688.96 996.65 L691.05 996.06 L693.14 995.47 L695.22 994.86 L697.31 994.25 L699.39 993.62 L701.48 992.98 L703.56 992.33 L705.65 991.67 L707.73 991.00 L709.82 990.31 L711.90 989.62 L713.99 988.90 L716.07 988.18 L718.16 987.44 L720.24 986.68 L722.33 985.91 L724.41 985.13 L726.50 984.32 L728.58 983.50 L730.67 982.67 L732.76 981.82 L734.84 980.94 L736.93 980.05 L739.01 979.14 L741.10 978.21 L743.18 977.26 L745.27 976.29 L747.35 975.29 L749.44 974.28 L751.52 973.24 L753.61 972.17 L755.69 971.08 L757.78 969.96 L759.86 968.81 L761.95 967.64 L764.03 966.44 L766.12 965.21 L768.20 963.94 L770.29 962.65 L772.37 961.32 L774.46 959.96 L776.55 958.56 L778.63 957.12 L780.72 955.65 L782.80 954.13 L784.89 952.58 L786.97 950.98 L789.06 949.34 L791.14 947.65 L793.23 945.92 L795.31 944.13 L797.40 942.30 L799.48 940.41 L801.57 938.47 L803.65 936.48 L805.74 934.43 L807.82 932.32 L809.91 930.14 L811.99 927.90 L814.08 925.60 L816.16 923.23 L818.25 920.79 L820.34 918.27 L822.42 915.69 L824.51 913.02 L826.59 910.27 L828.68 907.45 L830.76 904.53 L832.85 901.53 L834.93 898.44 L837.02 895.26 L839.10 891.98 L841.19 888.61 L843.27 885.13 L845.36 881.56 L847.44 877.87 L849.53 874.08 L851.61 870.17 L853.70 866.15 L855.78 862.02 L857.87 857.76 L859.96 853.39 L862.04 848.88 L864.13 844.26 L866.21 839.50 L868.30 834.61 L870.38 829.58 L872.47 824.42 L874.55 819.12 L876.64 813.69 L878.72 808.11 L880.81 802.39 L882.89 796.52 L884.98 790.51 L887.06 784.35 L889.15 778.05 L891.23 771.60 L893.32 765.00 L895.40 758.26 L897.49 751.38 L899.58 744.35 L901.66 737.17 L903.75 729.86 L905.83 722.41 L907.92 714.82 L910.00 707.10 L912.09 699.25 L914.17 691.28 L916.26 683.18 L918.34 674.97 L920.43 666.65 L922.51 658.23 L924.60 649.70 L926.68 641.08 L928.77 632.38 L930.85 623.60 L932.94 614.75 L935.02 605.84 L937.11 596.88 L939.19 587.87 L941.28 578.83 L943.37 569.76 L945.45 560.68 L947.54 551.59 L949.62 542.51 L951.71 533.44 L953.79 524.39 L955.88 515.38 L957.96 506.41 L960.05 497.50 L962.13 488.66 L964.22 479.89 L966.30 471.21 L968.39 462.62 L970.47 454.13 L972.56 445.76 L974.64 437.51 L976.73 429.39 L978.81 421.40 L980.90 413.57 L982.99 405.88 L985.07 398.36 L987.16 391.00 L989.24 383.81 L991.33 376.80 L993.41 369.96 L995.50 363.32 L997.58 356.86 L999.67 350.60 L1001.75 344.53 L1003.84 338.65 L1005.92 332.98 L1008.01 327.51 L1010.09 322.23 L1012.18 317.16 L1014.26 312.29 L1016.35 307.62 L1018.43 303.15 L1020.52 298.88 L1022.60 294.81 L1024.69 290.93 L1026.78 287.24 L1028.86 283.75 L1030.95 280.45 L1033.03 277.33 L1035.12 274.40 L1037.20 271.65 L1039.29 269.07 L1041.37 266.67 L1043.46 264.44 L1045.54 262.37 L1047.63 260.47 L1049.71 258.72 L1051.80 257.14 L1053.88 255.70 L1055.97 254.41 L1058.05 253.27 L1060.14 252.27 L1062.22 251.40 L1064.31 250.66 L1066.40 250.06 L1068.48 249.58 L1070.57 249.22 L1072.65 248.99 L1074.74 248.86 L1076.82 248.85 L1078.91 248.95 L1080.99 249.15 L1083.08 249.45 L1085.16 249.85 L1087.25 250.35 L1089.33 250.94 L1091.42 251.62 L1093.50 252.38 L1095.59 253.23 L1097.67 254.17 L1099.76 255.18 L1101.84 256.27 L1103.93 257.43 L1106.01 258.67 L1108.10 259.97 L1110.19 261.34 L1112.27 262.78 L1114.36 264.29 L1116.44 265.85 L1118.53 267.48 L1120.61 269.16 L1122.70 270.91 L1124.78 272.70 L1126.87 274.55 L1128.95 276.46 L1131.04 278.41 L1133.12 280.42 L1135.21 282.47 L1137.29 284.57 L1139.38 286.72 L1141.46 288.91 L1143.55 291.14 L1145.63 293.42 L1147.72 295.74 L1149.81 298.10 L1151.89 300.50 L1153.98 302.94 L1156.06 305.42 L1158.15 307.93 L1160.23 310.49 L1162.32 313.07 L1164.40 315.70 L1166.49 318.36 L1168.57 321.05 L1170.66 323.78 L1172.74 326.54 L1174.83 329.33 L1176.91 332.16 L1179.00 335.01 L1181.08 337.90 L1183.17 340.82 L1185.25 343.76 L1187.34 346.74 L1189.42 349.75 L1191.51 352.78 L1193.60 355.85 L1195.68 358.94 L1197.77 362.06 L1199.85 365.21 L1201.94 368.39 L1204.02 371.59 L1206.11 374.82 L1208.19 378.07 L1210.28 381.35 L1212.36 384.66 L1214.45 387.99 L1216.53 391.35 L1218.62 394.73 L1220.70 398.14 L1222.79 401.57 L1224.87 405.02 L1226.96 408.50 L1229.04 412.01 L1231.13 415.53 L1233.22 419.08 L1235.30 422.65 L1237.39 426.25 L1239.47 429.87 L1241.56 433.51 L1243.64 437.17 L1245.73 440.85 L1247.81 444.55 L1249.90 448.28 L1251.98 452.03 L1254.07 455.79 L1256.15 459.58 L1258.24 463.39 L1260.32 467.22 L1262.41 471.06 L1264.49 474.93 L1266.58 478.81 L1268.66 482.72 L1270.75 486.64 L1272.83 490.58 L1274.92 494.54 L1277.01 498.52 L1279.09 502.51 L1281.18 506.52 L1283.26 510.55 L1285.35 514.59 L1287.43 518.65 L1289.52 522.73 L1291.60 526.82 L1293.69 530.92 L1295.77 535.04 L1297.86 539.18 L1299.94 543.33 L1302.03 547.49 L1304.11 551.66 L1306.20 555.85 L1308.28 560.05 L1310.37 564.26 L1312.45 568.49 L1314.54 572.72 L1316.62 576.97 L1318.71 581.22 L1320.80 585.49 L1322.88 589.76 L1324.97 594.05 L1327.05 598.34 L1329.14 602.64 L1331.22 606.95 L1333.31 611.26 L1335.39 615.58 L1337.48 619.91 L1339.56 624.24 L1341.65 628.58 L1343.73 632.92 L1345.82 637.27 L1347.90 641.62 L1349.99 645.97 L1352.07 650.32 L1354.16 654.68 L1356.24 659.04 L1358.33 663.40 L1360.42 667.75 L1362.50 672.11 L1364.59 676.47 L1366.67 680.82 L1368.76 685.18 L1370.84 689.53 L1372.93 693.87 L1375.01 698.21 L1377.10 702.55 L1379.18 706.88 L1381.27 711.21 L1383.35 715.53 L1385.44 719.84 L1387.52 724.14 L1389.61 728.43 L1391.69 732.72 L1393.78 736.99 L1395.86 741.26 L1397.95 745.51 L1400.04 749.75 L1402.12 753.98 L1404.21 758.20 L1406.29 762.40 L1408.38 766.59 L1410.46 770.76 L1412.55 774.91 L1414.63 779.05 L1416.72 783.17 L1418.80 787.28 L1420.89 791.36 L1422.97 795.43 L1425.06 799.47 L1427.14 803.49 L1429.23 807.50 L1431.31 811.48 L1433.40 815.44 L1435.48 819.37 L1437.57 823.28 L1439.65 827.17 L1441.74 831.03 L1443.83 834.86 L1445.91 838.67 L1448.00 842.45 L1450.08 846.21 L1452.17 849.93 L1454.25 853.63 L1456.34 857.29 L1458.42 860.93 L1460.51 864.54 L1462.59 868.11 L1464.68 871.65 L1466.76 875.16 L1468.85 878.64 L1470.93 882.08 L1473.02 885.49 L1475.10 888.86 L1477.19 892.20 L1479.27 895.51 L1481.36 898.77 L1483.44 902.01 L1485.53 905.20 L1487.62 908.36 L1489.70 911.48 L1491.79 914.56 L1493.87 917.60 L1495.96 920.61 L1498.04 923.57 L1500.13 926.50 L1502.21 929.38 L1504.30 932.23 L1506.38 935.03 L1508.47 937.80 L1510.55 940.52 L1512.64 943.21 L1514.72 945.85 L1516.81 948.45 L1518.89 951.01 L1520.98 953.52 L1523.06 956.00 L1525.15 958.43 L1527.24 960.82 L1529.32 963.17 L1531.41 965.48 L1533.49 967.74 L1535.58 969.97 L1537.66 972.15 L1539.75 974.29 L1541.83 976.38 L1543.92 978.44 L1546.00 980.45 L1548.09 982.42 L1550.17 984.35 L1552.26 986.24 L1554.34 988.08 L1556.43 989.89 L1558.51 991.65 L1560.60 993.38 L1562.68 995.06 L1564.77 996.71 L1566.86 998.31 L1568.94 999.88 L1571.03 1001.40 L1573.11 1002.89 L1575.20 1004.34 L1577.28 1005.75 L1579.37 1007.12 L1581.45 1008.45 L1583.54 1009.75 L1585.62 1011.01 L1587.71 1012.24 L1589.79 1013.43 L1591.88 1014.59 L1593.96 1015.71 L1596.05 1016.79 L1598.13 1017.85 L1600.22 1018.87 L1602.30 1019.86 L1604.39 1020.81 L1606.47 1021.74 L1608.56 1022.63 L1610.65 1023.50 L1612.73 1024.33 L1614.82 1025.14 L1616.90 1025.91 L1618.99 1026.66 L1621.07 1027.38 L1623.16 1028.08 L1625.24 1028.75 L1627.33 1029.39 L1629.41 1030.01 L1631.50 1030.60 L1633.58 1031.18 L1635.67 1031.72 L1637.75 1032.25 L1639.84 1032.75 L1641.92 1033.24 L1644.01 1033.70 L1646.09 1034.14 L1648.18 1034.56 L1650.27 1034.97 L1652.35 1035.35 L1654.44 1035.72 L1656.52 1036.07 L1658.61 1036.40 L1660.69 1036.72 L1662.78 1037.03 L1664.86 1037.31 L1666.95 1037.59 L1669.03 1037.85 L1671.12 1038.09 L1673.20 1038.33 L1675.29 1038.55 L1677.37 1038.76 L1679.46 1038.96 L1681.54 1039.14 L1683.63 1039.32 L1685.71 1039.49 L1687.80 1039.65 L1689.88 1039.79 L1691.97 1039.93 L1694.06 1040.07 L1696.14 1040.19 L1698.23 1040.31 L1700.31 1040.41 L1702.40 1040.52 L1704.48 1040.61 L1706.57 1040.70 L1708.65 1040.79 L1710.74 1040.86 L1712.82 1040.94 L1714.91 1041.00 L1716.99 1041.07 L1719.08 1041.13 L1721.16 1041.18 L1723.25 1041.23 L1725.33 1041.28 L1727.42 1041.32 L1729.50 1041.36 L1731.59 1041.40 L1733.67 1041.44 L1735.76 1041.47 L1737.85 1041.50 L1739.93 1041.52 L1742.02 1041.55 L1744.10 1041.57 L1746.19 1041.59 L1748.27 1041.61 L1750.36 1041.63 L1752.44 1041.65 L1754.53 1041.66 L1756.61 1041.68 L1758.70 1041.69 L1760.78 1041.70 L1762.87 1041.71 L1764.95 1041.72 L1767.04 1041.73 L1769.12 1041.73 L1771.21 1041.74 L1773.29 1041.75 L1775.38 1041.75 L1777.47 1041.76 L1779.55 1041.76 L1781.64 1041.77 L1783.72 1041.77 L1785.81 1041.77 L1787.89 1041.78 L1789.98 1041.78 L1792.06 1041.78 L1794.15 1041.78 L1796.23 1041.79 L1798.32 1041.79 L1800.40 1041.79 L1802.49 1041.79 L1804.57 1041.79 L1806.66 1041.79 L1808.74 1041.79 L1810.83 1041.79 L1812.91 1041.80 L1815.00 1041.80 L1817.09 1041.80 L1819.17 1041.80 L1821.26 1041.80 L1823.34 1041.80 L1825.43 1041.80 L1827.51 1041.80 L1829.60 1041.80 L1831.68 1041.80 L1833.77 1041.80 L1835.85 1041.80 L1837.94 1041.80 L1840.02 1041.80 L1842.11 1041.80 L1844.19 1041.80 L1846.28 1041.80 L1848.36 1041.80 L1850.45 1041.80 L1852.53 1041.80 L1854.62 1041.80 L1856.70 1041.80 L1858.79 1041.80 L1860.88 1041.80 L1862.96 1041.80 L1865.05 1041.80 L1867.13 1041.80 L1869.22 1041.80 L1871.30 1041.80 L1873.39 1041.80 L1875.47 1041.80 L1877.56 1041.80 L1879.64 1041.80 L1881.73 1041.80 L1883.81 1041.80 L1885.90 1041.80 L1887.98 1041.80 L1890.07 1041.80 L1892.15 1041.80 L1894.24 1041.80 L1896.32 1041.80 L1898.41 1041.80 L1900.50 1041.80 L1902.58 1041.80 L1904.67 1041.80 L1906.75 1041.80 L1908.84 1041.80 L1910.92 1041.80 L1913.01 1041.80 L1915.09 1041.80 L1917.18 1041.80 L1919.26 1041.80 L1921.35 1041.80 L1923.43 1041.80 L1925.52 1041.80 L1927.60 1041.80 L1929.69 1041.80 L1931.77 1041.80 L1933.86 1041.80 L1935.94 1041.80 L1938.03 1041.80 L1940.11 1041.80 L1942.20 1041.80" stroke="#000" stroke-width="7.36" fill="none" stroke-dasharray="58.85 29.42 7.36 29.42" stroke-dashoffset="0.0"/>
<path d="M274.00 1037.29 L276.09 1037.24 L278.17 1037.19 L280.26 1037.13 L282.34 1037.08 L284.43 1037.02 L286.51 1036.97 L288.60 1036.91 L290.68 1036.86 L292.77 1036.80 L294.85 1036.74 L296.94 1036.68 L299.02 1036.62 L301.11 1036.56 L303.19 1036.50 L305.28 1036.44 L307.36 1036.38 L309.45 1036.32 L311.53 1036.25 L313.62 1036.19 L315.71 1036.12 L317.79 1036.06 L319.88 1035.99 L321.96 1035.92 L324.05 1035.86 L326.13 1035.79 L328.22 1035.72 L330.30 1035.65 L332.39 1035.58 L334.47 1035.50 L336.56 1035.43 L338.64 1035.36 L340.73 1035.28 L342.81 1035.21 L344.90 1035.13 L346.98 1035.05 L349.07 1034.98 L351.15 1034.90 L353.24 1034.82 L355.32 1034.73 L357.41 1034.65 L359.50 1034.57 L361.58 1034.49 L363.67 1034.40 L365.75 1034.31 L367.84 1034.23 L369.92 1034.14 L372.01 1034.05 L374.09 1033.96 L376.18 1033.87 L378.26 1033.78 L380.35 1033.68 L382.43 1033.59 L384.52 1033.49 L386.60 1033.39 L388.69 1033.30 L390.77 1033.20 L392.86 1033.10 L394.94 1032.99 L397.03 1032.89 L399.11 1032.79 L401.20 1032.68 L403.29 1032.57 L405.37 1032.46 L407.46 1032.35 L409.54 1032.24 L411.63 1032.13 L413.71 1032.02 L415.80 1031.90 L417.88 1031.78 L419.97 1031.67 L422.05 1031.55 L424.14 1031.43 L426.22 1031.30 L428.31 1031.18 L430.39 1031.05 L432.48 1030.92 L434.56 1030.79 L436.65 1030.66 L438.73 1030.53 L440.82 1030.40 L442.91 1030.26 L444.99 1030.12 L447.08 1029.98 L449.16 1029.84 L451.25 1029.69 L453.33 1029.55 L455.42 1029.40 L457.50 1029.25 L459.59 1029.10 L461.67 1028.95 L463.76 1028.79 L465.84 1028.63 L467.93 1028.47 L470.01 1028.31 L472.10 1028.14 L474.18 1027.97 L476.27 1027.80 L478.35 1027.63 L480.44 1027.46 L482.52 1027.28 L484.61 1027.10 L486.70 1026.91 L488.78 1026.73 L490.87 1026.54 L492.95 1026.35 L495.04 1026.15 L497.12 1025.96 L499.21 1025.75 L501.29 1025.55 L503.38 1025.34 L505.46 1025.13 L507.55 1024.92 L509.63 1024.70 L511.72 1024.48 L513.80 1024.25 L515.89 1024.02 L517.97 1023.79 L520.06 1023.55 L522.14 1023.31 L524.23 1023.07 L526.32 1022.82 L528.40 1022.56 L530.49 1022.30 L532.57 1022.04 L534.66 1021.77 L536.74 1021.50 L538.83 1021.22 L540.91 1020.94 L543.00 1020.65 L545.08 1020.35 L547.17 1020.05 L549.25 1019.74 L551.34 1019.43 L553.42 1019.11 L555.51 1018.78 L557.59 1018.45 L559.68 1018.11 L561.76 1017.76 L563.85 1017.40 L565.94 1017.04 L568.02 1016.67 L570.11 1016.29 L572.19 1015.90 L574.28 1015.50 L576.36 1015.09 L578.45 1014.67 L580.53 1014.25 L582.62 1013.81 L584.70 1013.36 L586.79 1012.91 L588.87 1012.44 L590.96 1011.95 L593.04 1011.46 L595.13 1010.95 L597.21 1010.43 L599.30 1009.90 L601.38 1009.35 L603.47 1008.79 L605.55 1008.21 L607.64 1007.62 L609.73 1007.01 L611.81 1006.38 L613.90 1005.73 L615.98 1005.07 L618.07 1004.39 L620.15 1003.68 L622.24 1002.96 L624.32 1002.22 L626.41 1001.45 L628.49 1000.66 L630.58 999.85 L632.66 999.01 L634.75 998.14 L636.83 997.25 L638.92 996.33 L641.00 995.39 L643.09 994.41 L645.17 993.40 L647.26 992.35 L649.35 991.28 L651.43 990.17 L653.52 989.02 L655.60 987.83 L657.69 986.61 L659.77 985.34 L661.86 984.03 L663.94 982.68 L666.03 981.28 L668.11 979.84 L670.20 978.34 L672.28 976.80 L674.37 975.20 L676.45 973.54 L678.54 971.83 L680.62 970.06 L682.71 968.22 L684.79 966.32 L686.88 964.36 L688.96 962.33 L691.05 960.22 L693.14 958.05 L695.22 955.79 L697.31 953.46 L699.39 951.04 L701.48 948.54 L703.56 945.95 L705.65 943.28 L707.73 940.50 L709.82 937.64 L711.90 934.67 L713.99 931.59 L716.07 928.42 L718.16 925.13 L720.24 921.73 L722.33 918.21 L724.41 914.58 L726.50 910.82 L728.58 906.93 L730.67 902.91 L732.76 898.77 L734.84 894.48 L736.93 890.06 L739.01 885.49 L741.10 880.77 L743.18 875.91 L745.27 870.89 L747.35 865.72 L749.44 860.39 L751.52 854.90 L753.61 849.25 L755.69 843.43 L757.78 837.44 L759.86 831.28 L761.95 824.95 L764.03 818.45 L766.12 811.77 L768.20 804.92 L770.29 797.89 L772.37 790.69 L774.46 783.31 L776.55 775.75 L778.63 768.03 L780.72 760.12 L782.80 752.05 L784.89 743.81 L786.97 735.41 L789.06 726.84 L791.14 718.12 L793.23 709.24 L795.31 700.21 L797.40 691.03 L799.48 681.72 L801.57 672.28 L803.65 662.71 L805.74 653.03 L807.82 643.23 L809.91 633.33 L811.99 623.34 L814.08 613.27 L816.16 603.12 L818.25 592.91 L820.34 582.64 L822.42 572.33 L824.51 561.99 L826.59 551.63 L828.68 541.25 L830.76 530.88 L832.85 520.52 L834.93 510.18 L837.02 499.87 L839.10 489.61 L841.19 479.41 L843.27 469.28 L845.36 459.23 L847.44 449.26 L849.53 439.40 L851.61 429.64 L853.70 420.01 L855.78 410.50 L857.87 401.13 L859.96 391.90 L862.04 382.83 L864.13 373.92 L866.21 365.17 L868.30 356.60 L870.38 348.21 L872.47 340.00 L874.55 331.98 L876.64 324.15 L878.72 316.52 L880.81 309.09 L882.89 301.86 L884.98 294.83 L887.06 288.01 L889.15 281.40 L891.23 274.99 L893.32 268.79 L895.40 262.80 L897.49 257.01 L899.58 251.42 L901.66 246.04 L903.75 240.86 L905.83 235.89 L907.92 231.10 L910.00 226.52 L912.09 222.12 L914.17 217.91 L916.26 213.89 L918.34 210.05 L920.43 206.39 L922.51 202.91 L924.60 199.60 L926.68 196.45 L928.77 193.47 L930.85 190.65 L932.94 187.99 L935.02 185.47 L937.11 183.11 L939.19 180.89 L941.28 178.81 L943.37 176.87 L945.45 175.05 L947.54 173.37 L949.62 171.82 L951.71 170.38 L953.79 169.06 L955.88 167.86 L957.96 166.77 L960.05 165.78 L962.13 164.90 L964.22 164.11 L966.30 163.43 L968.39 162.84 L970.47 162.34 L972.56 161.93 L974.64 161.60 L976.73 161.36 L978.81 161.20 L980.90 161.11 L982.99 161.10 L985.07 161.16 L987.16 161.29 L989.24 161.49 L991.33 161.75 L993.41 162.08 L995.50 162.47 L997.58 162.92 L999.67 163.43 L1001.75 163.99 L1003.84 164.61 L1005.92 165.28 L1008.01 166.00 L1010.09 166.78 L1012.18 167.60 L1014.26 168.46 L1016.35 169.37 L1018.43 170.33 L1020.52 171.33 L1022.60 172.37 L1024.69 173.46 L1026.78 174.58 L1028.86 175.74 L1030.95 176.94 L1033.03 178.18 L1035.12 179.45 L1037.20 180.76 L1039.29 182.10 L1041.37 183.48 L1043.46 184.89 L1045.54 186.33 L1047.63 187.80 L1049.71 189.31 L1051.80 190.84 L1053.88 192.41 L1055.97 194.01 L1058.05 195.63 L1060.14 197.29 L1062.22 198.97 L1064.31 200.68 L1066.40 202.42 L1068.48 204.18 L1070.57 205.98 L1072.65 207.79 L1074.74 209.64 L1076.82 211.51 L1078.91 213.41 L1080.99 215.33 L1083.08 217.28 L1085.16 219.25 L1087.25 221.25 L1089.33 223.27 L1091.42 225.32 L1093.50 227.39 L1095.59 229.48 L1097.67 231.60 L1099.76 233.74 L1101.84 235.91 L1103.93 238.10 L1106.01 240.32 L1108.10 242.55 L1110.19 244.82 L1112.27 247.10 L1114.36 249.41 L1116.44 251.74 L1118.53 254.09 L1120.61 256.47 L1122.70 258.87 L1124.78 261.30 L1126.87 263.74 L1128.95 266.21 L1131.04 268.70 L1133.12 271.22 L1135.21 273.76 L1137.29 276.32 L1139.38 278.90 L1141.46 281.51 L1143.55 284.14 L1145.63 286.79 L1147.72 289.47 L1149.81 292.16 L1151.89 294.88 L1153.98 297.63 L1156.06 300.39 L1158.15 303.18 L1160.23 305.99 L1162.32 308.83 L1164.40 311.68 L1166.49 314.56 L1168.57 317.47 L1170.66 320.39 L1172.74 323.34 L1174.83 326.31 L1176.91 329.30 L1179.00 332.32 L1181.08 335.35 L1183.17 338.41 L1185.25 341.50 L1187.34 344.60 L1189.42 347.73 L1191.51 350.88 L1193.60 354.05 L1195.68 357.25 L1197.77 360.47 L1199.85 363.70 L1201.94 366.97 L1204.02 370.25 L1206.11 373.56 L1208.19 376.88 L1210.28 380.23 L1212.36 383.61 L1214.45 387.00 L1216.53 390.41 L1218.62 393.85 L1220.70 397.31 L1222.79 400.79 L1224.87 404.29 L1226.96 407.81 L1229.04 411.36 L1231.13 414.92 L1233.22 418.51 L1235.30 422.12 L1237.39 425.74 L1239.47 429.39 L1241.56 433.06 L1243.64 436.75 L1245.73 440.46 L1247.81 444.18 L1249.90 447.93 L1251.98 451.70 L1254.07 455.49 L1256.15 459.29 L1258.24 463.12 L1260.32 466.96 L1262.41 470.83 L1264.49 474.71 L1266.58 478.61 L1268.66 482.52 L1270.75 486.46 L1272.83 490.41 L1274.92 494.38 L1277.01 498.37 L1279.09 502.37 L1281.18 506.39 L1283.26 510.43 L1285.35 514.48 L1287.43 518.54 L1289.52 522.63 L1291.60 526.72 L1293.69 530.84 L1295.77 534.96 L1297.86 539.10 L1299.94 543.25 L1302.03 547.42 L1304.11 551.60 L1306.20 555.79 L1308.28 560.00 L1310.37 564.21 L1312.45 568.44 L1314.54 572.68 L1316.62 576.93 L1318.71 581.18 L1320.80 585.45 L1322.88 589.73 L1324.97 594.02 L1327.05 598.31 L1329.14 602.61 L1331.22 606.92 L1333.31 611.24 L1335.39 615.56 L1337.48 619.89 L1339.56 624.22 L1341.65 628.56 L1343.73 632.91 L1345.82 637.25 L1347.90 641.60 L1349.99 645.96 L1352.07 650.31 L1354.16 654.67 L1356.24 659.03 L1358.33 663.39 L1360.42 667.75 L1362.50 672.10 L1364.59 676.46 L1366.67 680.82 L1368.76 685.17 L1370.84 689.52 L1372.93 693.87 L1375.01 698.21 L1377.10 702.55 L1379.18 706.88 L1381.27 711.20 L1383.35 715.52 L1385.44 719.83 L1387.52 724.14 L1389.61 728.43 L1391.69 732.72 L1393.78 736.99 L1395.86 741.26 L1397.95 745.51 L1400.04 749.75 L1402.12 753.98 L1404.21 758.20 L1406.29 762.40 L1408.38 766.58 L1410.46 770.76 L1412.55 774.91 L1414.63 779.05 L1416.72 783.17 L1418.80 787.27 L1420.89 791.36 L1422.97 795.42 L1425.06 799.47 L1427.14 803.49 L1429.23 807.50 L1431.31 811.48 L1433.40 815.44 L1435.48 819.37 L1437.57 823.28 L1439.65 827.17 L1441.74 831.03 L1443.83 834.86 L1445.91 838.67 L1448.00 842.45 L1450.08 846.21 L1452.17 849.93 L1454.25 853.63 L1456.34 857.29 L1458.42 860.93 L1460.51 864.54 L1462.59 868.11 L1464.68 871.65 L1466.76 875.16 L1468.85 878.64 L1470.93 882.08 L1473.02 885.49 L1475.10 888.86 L1477.19 892.20 L1479.27 895.51 L1481.36 898.77 L1483.44 902.01 L1485.53 905.20 L1487.62 908.36 L1489.70 911.48 L1491.79 914.56 L1493.87 917.60 L1495.96 920.61 L1498.04 923.57 L1500.13 926.50 L1502.21 929.38 L1504.30 932.23 L1506.38 935.03 L1508.47 937.80 L1510.55 940.52 L1512.64 943.21 L1514.72 945.85 L1516.81 948.45 L1518.89 951.01 L1520.98 953.52 L1523.06 956.00 L1525.15 958.43 L1527.24 960.82 L1529.32 963.17 L1531.41 965.48 L1533.49 967.74 L1535.58 969.97 L1537.66 972.15 L1539.75 974.29 L1541.83 976.38 L1543.92 978.44 L1546.00 980.45 L1548.09 982.42 L1550.17 984.35 L1552.26 986.24 L1554.34 988.08 L1556.43 989.89 L1558.51 991.65 L1560.60 993.38 L1562.68 995.06 L1564.77 996.71 L1566.86 998.31 L1568.94 999.88 L1571.03 1001.40 L1573.11 1002.89 L1575.20 1004.34 L1577.28 1005.75 L1579.37 1007.12 L1581.45 1008.45 L1583.54 1009.75 L1585.62 1011.01 L1587.71 1012.24 L1589.79 1013.43 L1591.88 1014.59 L1593.96 1015.71 L1596.05 1016.79 L1598.13 1017.85 L1600.22 1018.87 L1602.30 1019.86 L1604.39 1020.81 L1606.47 1021.74 L1608.56 1022.63 L1610.65 1023.50 L1612.73 1024.33 L1614.82 1025.14 L1616.90 1025.91 L1618.99 1026.66 L1621.07 1027.38 L1623.16 1028.08 L1625.24 1028.75 L1627.33 1029.39 L1629.41 1030.01 L1631.50 1030.60 L1633.58 1031.18 L1635.67 1031.72 L1637.75 1032.25 L1639.84 1032.75 L1641.92 1033.24 L1644.01 1033.70 L1646.09 1034.14 L1648.18 1034.56 L1650.27 1034.97 L1652.35 1035.35 L1654.44 1035.72 L1656.52 1036.07 L1658.61 1036.40 L1660.69 1036.72 L1662.78 1037.03 L1664.86 1037.31 L1666.95 1037.59 L1669.03 1037.85 L1671.12 1038.09 L1673.20 1038.33 L1675.29 1038.55 L1677.37 1038.76 L1679.46 1038.96 L1681.54 1039.14 L1683.63 1039.32 L1685.71 1039.49 L1687.80 1039.65 L1689.88 1039.79 L1691.97 1039.93 L1694.06 1040.07 L1696.14 1040.19 L1698.23 1040.31 L1700.31 1040.41 L1702.40 1040.52 L1704.48 1040.61 L1706.57 1040.70 L1708.65 1040.79 L1710.74 1040.86 L1712.82 1040.94 L1714.91 1041.00 L1716.99 1041.07 L1719.08 1041.13 L1721.16 1041.18 L1723.25 1041.23 L1725.33 1041.28 L1727.42 1041.32 L1729.50 1041.36 L1731.59 1041.40 L1733.67 1041.44 L1735.76 1041.47 L1737.85 1041.50 L1739.93 1041.52 L1742.02 1041.55 L1744.10 1041.57 L1746.19 1041.59 L1748.27 1041.61 L1750.36 1041.63 L1752.44 1041.65 L1754.53 1041.66 L1756.61 1041.68 L1758.70 1041.69 L1760.78 1041.70 L1762.87 1041.71 L1764.95 1041.72 L1767.04 1041.73 L1769.12 1041.73 L1771.21 1041.74 L1773.29 1041.75 L1775.38 1041.75 L1777.47 1041.76 L1779.55 1041.76 L1781.64 1041.77 L1783.72 1041.77 L1785.81 1041.77 L1787.89 1041.78 L1789.98 1041.78 L1792.06 1041.78 L1794.15 1041.78 L1796.23 1041.79 L1798.32 1041.79 L1800.40 1041.79 L1802.49 1041.79 L1804.57 1041.79 L1806.66 1041.79 L1808.74 1041.79 L1810.83 1041.79 L1812.91 1041.80 L1815.00 1041.80 L1817.09 1041.80 L1819.17 1041.80 L1821.26 1041.80 L1823.34 1041.80 L1825.43 1041.80 L1827.51 1041.80 L1829.60 1041.80 L1831.68 1041.80 L1833.77 1041.80 L1835.85 1041.80 L1837.94 1041.80 L1840.02 1041.80 L1842.11 1041.80 L1844.19 1041.80 L1846.28 1041.80 L1848.36 1041.80 L1850.45 1041.80 L1852.53 1041.80 L1854.62 1041.80 L1856.70 1041.80 L1858.79 1041.80 L1860.88 1041.80 L1862.96 1041.80 L1865.05 1041.80 L1867.13 1041.80 L1869.22 1041.80 L1871.30 1041.80 L1873.39 1041.80 L1875.47 1041.80 L1877.56 1041.80 L1879.64 1041.80 L1881.73 1041.80 L1883.81 1041.80 L1885.90 1041.80 L1887.98 1041.80 L1890.07 1041.80 L1892.15 1041.80 L1894.24 1041.80 L1896.32 1041.80 L1898.41 1041.80 L1900.50 1041.80 L1902.58 1041.80 L1904.67 1041.80 L1906.75 1041.80 L1908.84 1041.80 L1910.92 1041.80 L1913.01 1041.80 L1915.09 1041.80 L1917.18 1041.80 L1919.26 1041.80 L1921.35 1041.80 L1923.43 1041.80 L1925.52 1041.80 L1927.60 1041.80 L1929.69 1041.80 L1931.77 1041.80 L1933.86 1041.80 L1935.94 1041.80 L1938.03 1041.80 L1940.11 1041.80 L1942.20 1041.80" stroke="#000" stroke-width="4.90" fill="none"/>
<path d="M274.00 1041.77 L276.09 1041.77 L278.17 1041.77 L280.26 1041.77 L282.34 1041.77 L284.43 1041.77 L286.51 1041.77 L288.60 1041.77 L290.68 1041.77 L292.77 1041.77 L294.85 1041.77 L296.94 1041.77 L299.02 1041.77 L301.11 1041.76 L303.19 1041.76 L305.28 1041.76 L307.36 1041.76 L309.45 1041.76 L311.53 1041.76 L313.62 1041.76 L315.71 1041.76 L317.79 1041.76 L319.88 1041.76 L321.96 1041.76 L324.05 1041.75 L326.13 1041.75 L328.22 1041.75 L330.30 1041.75 L332.39 1041.75 L334.47 1041.75 L336.56 1041.75 L338.64 1041.75 L340.73 1041.75 L342.81 1041.74 L344.90 1041.74 L346.98 1041.74 L349.07 1041.74 L351.15 1041.74 L353.24 1041.74 L355.32 1041.74 L357.41 1041.73 L359.50 1041.73 L361.58 1041.73 L363.67 1041.73 L365.75 1041.73 L367.84 1041.73 L369.92 1041.72 L372.01 1041.72 L374.09 1041.72 L376.18 1041.72 L378.26 1041.72 L380.35 1041.72 L382.43 1041.71 L384.52 1041.71 L386.60 1041.71 L388.69 1041.71 L390.77 1041.70 L392.86 1041.70 L394.94 1041.70 L397.03 1041.70 L399.11 1041.70 L401.20 1041.69 L403.29 1041.69 L405.37 1041.69 L407.46 1041.69 L409.54 1041.68 L411.63 1041.68 L413.71 1041.68 L415.80 1041.67 L417.88 1041.67 L419.97 1041.67 L422.05 1041.67 L424.14 1041.66 L426.22 1041.66 L428.31 1041.66 L430.39 1041.65 L432.48 1041.65 L434.56 1041.65 L436.65 1041.64 L438.73 1041.64 L440.82 1041.64 L442.91 1041.63 L444.99 1041.63 L447.08 1041.62 L449.16 1041.62 L451.25 1041.62 L453.33 1041.61 L455.42 1041.61 L457.50 1041.60 L459.59 1041.60 L461.67 1041.59 L463.76 1041.59 L465.84 1041.58 L467.93 1041.58 L470.01 1041.57 L472.10 1041.57 L474.18 1041.56 L476.27 1041.56 L478.35 1041.55 L480.44 1041.55 L482.52 1041.54 L484.61 1041.53 L486.70 1041.53 L488.78 1041.52 L490.87 1041.51 L492.95 1041.51 L495.04 1041.50 L497.12 1041.49 L499.21 1041.49 L501.29 1041.48 L503.38 1041.47 L505.46 1041.47 L507.55 1041.46 L509.63 1041.45 L511.72 1041.44 L513.80 1041.43 L515.89 1041.43 L517.97 1041.42 L520.06 1041.41 L522.14 1041.40 L524.23 1041.39 L526.32 1041.38 L528.40 1041.37 L530.49 1041.36 L532.57 1041.35 L534.66 1041.34 L536.74 1041.33 L538.83 1041.32 L540.91 1041.31 L543.00 1041.30 L545.08 1041.28 L547.17 1041.27 L549.25 1041.26 L551.34 1041.25 L553.42 1041.23 L555.51 1041.22 L557.59 1041.21 L559.68 1041.19 L561.76 1041.18 L563.85 1041.17 L565.94 1041.15 L568.02 1041.14 L570.11 1041.12 L572.19 1041.11 L574.28 1041.09 L576.36 1041.07 L578.45 1041.06 L580.53 1041.04 L582.62 1041.02 L584.70 1041.00 L586.79 1040.99 L588.87 1040.97 L590.96 1040.95 L593.04 1040.93 L595.13 1040.91 L597.21 1040.89 L599.30 1040.87 L601.38 1040.85 L603.47 1040.82 L605.55 1040.80 L607.64 1040.78 L609.73 1040.76 L611.81 1040.73 L613.90 1040.71 L615.98 1040.68 L618.07 1040.66 L620.15 1040.63 L622.24 1040.60 L624.32 1040.58 L626.41 1040.55 L628.49 1040.52 L630.58 1040.49 L632.66 1040.46 L634.75 1040.43 L636.83 1040.40 L638.92 1040.37 L641.00 1040.33 L643.09 1040.30 L645.17 1040.26 L647.26 1040.23 L649.35 1040.19 L651.43 1040.16 L653.52 1040.12 L655.60 1040.08 L657.69 1040.04 L659.77 1040.00 L661.86 1039.96 L663.94 1039.92 L666.03 1039.88 L668.11 1039.83 L670.20 1039.79 L672.28 1039.74 L674.37 1039.69 L676.45 1039.65 L678.54 1039.60 L680.62 1039.55 L682.71 1039.49 L684.79 1039.44 L686.88 1039.39 L688.96 1039.33 L691.05 1039.28 L693.14 1039.22 L695.22 1039.16 L697.31 1039.10 L699.39 1039.04 L701.48 1038.98 L703.56 1038.91 L705.65 1038.85 L707.73 1038.78 L709.82 1038.71 L711.90 1038.64 L713.99 1038.57 L716.07 1038.49 L718.16 1038.42 L720.24 1038.34 L722.33 1038.26 L724.41 1038.18 L726.50 1038.10 L728.58 1038.02 L730.67 1037.93 L732.76 1037.84 L734.84 1037.75 L736.93 1037.66 L739.01 1037.57 L741.10 1037.47 L743.18 1037.37 L745.27 1037.27 L747.35 1037.17 L749.44 1037.06 L751.52 1036.96 L753.61 1036.85 L755.69 1036.74 L757.78 1036.62 L759.86 1036.50 L761.95 1036.38 L764.03 1036.26 L766.12 1036.14 L768.20 1036.01 L770.29 1035.88 L772.37 1035.74 L774.46 1035.60 L776.55 1035.46 L778.63 1035.32 L780.72 1035.17 L782.80 1035.02 L784.89 1034.87 L786.97 1034.71 L789.06 1034.55 L791.14 1034.39 L793.23 1034.22 L795.31 1034.05 L797.40 1033.88 L799.48 1033.70 L801.57 1033.51 L803.65 1033.33 L805.74 1033.13 L807.82 1032.94 L809.91 1032.74 L811.99 1032.53 L814.08 1032.32 L816.16 1032.11 L818.25 1031.89 L820.34 1031.67 L822.42 1031.44 L824.51 1031.20 L826.59 1030.96 L828.68 1030.72 L830.76 1030.47 L832.85 1030.21 L834.93 1029.95 L837.02 1029.68 L839.10 1029.40 L841.19 1029.12 L843.27 1028.84 L845.36 1028.54 L847.44 1028.24 L849.53 1027.93 L851.61 1027.62 L853.70 1027.30 L855.78 1026.97 L857.87 1026.63 L859.96 1026.28 L862.04 1025.93 L864.13 1025.57 L866.21 1025.20 L868.30 1024.82 L870.38 1024.44 L872.47 1024.04 L874.55 1023.63 L876.64 1023.22 L878.72 1022.79 L880.81 1022.36 L882.89 1021.91 L884.98 1021.46 L887.06 1020.99 L889.15 1020.51 L891.23 1020.02 L893.32 1019.52 L895.40 1019.01 L897.49 1018.48 L899.58 1017.94 L901.66 1017.39 L903.75 1016.82 L905.83 1016.25 L907.92 1015.65 L910.00 1015.04 L912.09 1014.42 L914.17 1013.78 L916.26 1013.13 L918.34 1012.46 L920.43 1011.77 L922.51 1011.06 L924.60 1010.34 L926.68 1009.60 L928.77 1008.84 L930.85 1008.06 L932.94 1007.26 L935.02 1006.44 L937.11 1005.59 L939.19 1004.73 L941.28 1003.84 L943.37 1002.93 L945.45 1002.00 L947.54 1001.04 L949.62 1000.05 L951.71 999.04 L953.79 998.00 L955.88 996.94 L957.96 995.84 L960.05 994.72 L962.13 993.56 L964.22 992.37 L966.30 991.15 L968.39 989.90 L970.47 988.61 L972.56 987.29 L974.64 985.92 L976.73 984.52 L978.81 983.08 L980.90 981.60 L982.99 980.08 L985.07 978.51 L987.16 976.90 L989.24 975.24 L991.33 973.54 L993.41 971.78 L995.50 969.98 L997.58 968.12 L999.67 966.21 L1001.75 964.24 L1003.84 962.21 L1005.92 960.13 L1008.01 957.98 L1010.09 955.77 L1012.18 953.50 L1014.26 951.16 L1016.35 948.75 L1018.43 946.27 L1020.52 943.72 L1022.60 941.10 L1024.69 938.40 L1026.78 935.62 L1028.86 932.76 L1030.95 929.81 L1033.03 926.79 L1035.12 923.67 L1037.20 920.47 L1039.29 917.18 L1041.37 913.79 L1043.46 910.31 L1045.54 906.74 L1047.63 903.06 L1049.71 899.29 L1051.80 895.41 L1053.88 891.43 L1055.97 887.35 L1058.05 883.16 L1060.14 878.86 L1062.22 874.45 L1064.31 869.94 L1066.40 865.31 L1068.48 860.57 L1070.57 855.72 L1072.65 850.76 L1074.74 845.68 L1076.82 840.49 L1078.91 835.19 L1080.99 829.78 L1083.08 824.26 L1085.16 818.62 L1087.25 812.87 L1089.33 807.02 L1091.42 801.06 L1093.50 794.99 L1095.59 788.82 L1097.67 782.55 L1099.76 776.18 L1101.84 769.72 L1103.93 763.16 L1106.01 756.52 L1108.10 749.79 L1110.19 742.97 L1112.27 736.08 L1114.36 729.11 L1116.44 722.08 L1118.53 714.97 L1120.61 707.81 L1122.70 700.59 L1124.78 693.32 L1126.87 686.00 L1128.95 678.63 L1131.04 671.24 L1133.12 663.80 L1135.21 656.34 L1137.29 648.86 L1139.38 641.36 L1141.46 633.85 L1143.55 626.33 L1145.63 618.81 L1147.72 611.29 L1149.81 603.78 L1151.89 596.27 L1153.98 588.78 L1156.06 581.31 L1158.15 573.86 L1160.23 566.44 L1162.32 559.05 L1164.40 551.69 L1166.49 544.37 L1168.57 537.09 L1170.66 529.86 L1172.74 522.66 L1174.83 515.52 L1176.91 508.43 L1179.00 501.39 L1181.08 494.40 L1183.17 487.47 L1185.25 480.60 L1187.34 473.79 L1189.42 467.04 L1191.51 460.35 L1193.60 453.73 L1195.68 447.17 L1197.77 440.67 L1199.85 434.24 L1201.94 427.88 L1204.02 421.58 L1206.11 415.36 L1208.19 409.20 L1210.28 403.10 L1212.36 397.08 L1214.45 391.12 L1216.53 385.24 L1218.62 379.42 L1220.70 373.67 L1222.79 367.99 L1224.87 362.38 L1226.96 356.84 L1229.04 351.37 L1231.13 345.96 L1233.22 340.63 L1235.30 335.36 L1237.39 330.17 L1239.47 325.04 L1241.56 319.98 L1243.64 314.99 L1245.73 310.07 L1247.81 305.22 L1249.90 300.44 L1251.98 295.73 L1254.07 291.09 L1256.15 286.53 L1258.24 282.03 L1260.32 277.60 L1262.41 273.24 L1264.49 268.96 L1266.58 264.75 L1268.66 260.61 L1270.75 256.54 L1272.83 252.55 L1274.92 248.63 L1277.01 244.79 L1279.09 241.03 L1281.18 237.34 L1283.26 233.72 L1285.35 230.19 L1287.43 226.73 L1289.52 223.36 L1291.60 220.06 L1293.69 216.85 L1295.77 213.72 L1297.86 210.67 L1299.94 207.71 L1302.03 204.83 L1304.11 202.04 L1306.20 199.34 L1308.28 196.73 L1310.37 194.20 L1312.45 191.77 L1314.54 189.43 L1316.62 187.18 L1318.71 185.03 L1320.80 182.98 L1322.88 181.02 L1324.97 179.16 L1327.05 177.40 L1329.14 175.74 L1331.22 174.19 L1333.31 172.73 L1335.39 171.39 L1337.48 170.14 L1339.56 169.01 L1341.65 167.99 L1343.73 167.07 L1345.82 166.27 L1347.90 165.58 L1349.99 165.00 L1352.07 164.54 L1354.16 164.19 L1356.24 163.96 L1358.33 163.85 L1360.42 163.86 L1362.50 163.99 L1364.59 164.25 L1366.67 164.62 L1368.76 165.13 L1370.84 165.75 L1372.93 166.51 L1375.01 167.39 L1377.10 168.39 L1379.18 169.53 L1381.27 170.80 L1383.35 172.20 L1385.44 173.73 L1387.52 175.39 L1389.61 177.18 L1391.69 179.11 L1393.78 181.18 L1395.86 183.38 L1397.95 185.71 L1400.04 188.18 L1402.12 190.78 L1404.21 193.52 L1406.29 196.40 L1408.38 199.41 L1410.46 202.57 L1412.55 205.85 L1414.63 209.28 L1416.72 212.84 L1418.80 216.54 L1420.89 220.37 L1422.97 224.34 L1425.06 228.44 L1427.14 232.68 L1429.23 237.06 L1431.31 241.57 L1433.40 246.21 L1435.48 250.98 L1437.57 255.88 L1439.65 260.92 L1441.74 266.08 L1443.83 271.37 L1445.91 276.79 L1448.00 282.34 L1450.08 288.01 L1452.17 293.80 L1454.25 299.71 L1456.34 305.74 L1458.42 311.89 L1460.51 318.15 L1462.59 324.53 L1464.68 331.02 L1466.76 337.62 L1468.85 344.32 L1470.93 351.13 L1473.02 358.05 L1475.10 365.06 L1477.19 372.17 L1479.27 379.37 L1481.36 386.67 L1483.44 394.06 L1485.53 401.53 L1487.62 409.08 L1489.70 416.72 L1491.79 424.43 L1493.87 432.22 L1495.96 440.08 L1498.04 448.00 L1500.13 455.99 L1502.21 464.04 L1504.30 472.14 L1506.38 480.30 L1508.47 488.51 L1510.55 496.76 L1512.64 505.05 L1514.72 513.39 L1516.81 521.75 L1518.89 530.15 L1520.98 538.58 L1523.06 547.02 L1525.15 555.49 L1527.24 563.97 L1529.32 572.46 L1531.41 580.95 L1533.49 589.45 L1535.58 597.95 L1537.66 606.44 L1539.75 614.92 L1541.83 623.38 L1543.92 631.83 L1546.00 640.26 L1548.09 648.66 L1550.17 657.03 L1552.26 665.36 L1554.34 673.66 L1556.43 681.91 L1558.51 690.12 L1560.60 698.28 L1562.68 706.39 L1564.77 714.44 L1566.86 722.43 L1568.94 730.35 L1571.03 738.21 L1573.11 745.99 L1575.20 753.70 L1577.28 761.34 L1579.37 768.89 L1581.45 776.36 L1583.54 783.74 L1585.62 791.03 L1587.71 798.23 L1589.79 805.33 L1591.88 812.33 L1593.96 819.24 L1596.05 826.04 L1598.13 832.74 L1600.22 839.33 L1602.30 845.81 L1604.39 852.18 L1606.47 858.44 L1608.56 864.58 L1610.65 870.61 L1612.73 876.52 L1614.82 882.32 L1616.90 887.99 L1618.99 893.55 L1621.07 898.98 L1623.16 904.29 L1625.24 909.49 L1627.33 914.55 L1629.41 919.50 L1631.50 924.32 L1633.58 929.03 L1635.67 933.60 L1637.75 938.06 L1639.84 942.39 L1641.92 946.61 L1644.01 950.70 L1646.09 954.67 L1648.18 958.52 L1650.27 962.26 L1652.35 965.88 L1654.44 969.38 L1656.52 972.77 L1658.61 976.04 L1660.69 979.20 L1662.78 982.26 L1664.86 985.20 L1666.95 988.04 L1669.03 990.77 L1671.12 993.40 L1673.20 995.93 L1675.29 998.36 L1677.37 1000.69 L1679.46 1002.92 L1681.54 1005.07 L1683.63 1007.12 L1685.71 1009.08 L1687.80 1010.96 L1689.88 1012.75 L1691.97 1014.47 L1694.06 1016.10 L1696.14 1017.65 L1698.23 1019.14 L1700.31 1020.54 L1702.40 1021.88 L1704.48 1023.15 L1706.57 1024.36 L1708.65 1025.50 L1710.74 1026.58 L1712.82 1027.60 L1714.91 1028.57 L1716.99 1029.48 L1719.08 1030.34 L1721.16 1031.15 L1723.25 1031.92 L1725.33 1032.63 L1727.42 1033.31 L1729.50 1033.94 L1731.59 1034.53 L1733.67 1035.09 L1735.76 1035.61 L1737.85 1036.09 L1739.93 1036.55 L1742.02 1036.97 L1744.10 1037.36 L1746.19 1037.73 L1748.27 1038.07 L1750.36 1038.38 L1752.44 1038.67 L1754.53 1038.94 L1756.61 1039.20 L1758.70 1039.43 L1760.78 1039.64 L1762.87 1039.84 L1764.95 1040.02 L1767.04 1040.18 L1769.12 1040.34 L1771.21 1040.48 L1773.29 1040.60 L1775.38 1040.72 L1777.47 1040.83 L1779.55 1040.93 L1781.64 1041.01 L1783.72 1041.09 L1785.81 1041.17 L1787.89 1041.23 L1789.98 1041.29 L1792.06 1041.35 L1794.15 1041.40 L1796.23 1041.44 L1798.32 1041.48 L1800.40 1041.52 L1802.49 1041.55 L1804.57 1041.58 L1806.66 1041.61 L1808.74 1041.63 L1810.83 1041.65 L1812.91 1041.67 L1815.00 1041.68 L1817.09 1041.70 L1819.17 1041.71 L1821.26 1041.72 L1823.34 1041.73 L1825.43 1041.74 L1827.51 1041.75 L1829.60 1041.76 L1831.68 1041.76 L1833.77 1041.77 L1835.85 1041.77 L1837.94 1041.78 L1840.02 1041.78 L1842.11 1041.78 L1844.19 1041.78 L1846.28 1041.79 L1848.36 1041.79 L1850.45 1041.79 L1852.53 1041.79 L1854.62 1041.79 L1856.70 1041.79 L1858.79 1041.80 L1860.88 1041.80 L1862.96 1041.80 L1865.05 1041.80 L1867.13 1041.80 L1869.22 1041.80 L1871.30 1041.80 L1873.39 1041.80 L1875.47 1041.80 L1877.56 1041.80 L1879.64 1041.80 L1881.73 1041.80 L1883.81 1041.80 L1885.90 1041.80 L1887.98 1041.80 L1890.07 1041.80 L1892.15 1041.80 L1894.24 1041.80 L1896.32 1041.80 L1898.41 1041.80 L1900.50 1041.80 L1902.58 1041.80 L1904.67 1041.80 L1906.75 1041.80 L1908.84 1041.80 L1910.92 1041.80 L1913.01 1041.80 L1915.09 1041.80 L1917.18 1041.80 L1919.26 1041.80 L1921.35 1041.80 L1923.43 1041.80 L1925.52 1041.80 L1927.60 1041.80 L1929.69 1041.80 L1931.77 1041.80 L1933.86 1041.80 L1935.94 1041.80 L1938.03 1041.80 L1940.11 1041.80 L1942.20 1041.80" stroke="#f00" stroke-width="7.36" fill="none" stroke-dasharray="58.85 29.42" stroke-dashoffset="0.0"/>
<path d="M274.00 1041.77 L276.09 1041.77 L278.17 1041.77 L280.26 1041.77 L282.34 1041.77 L284.43 1041.77 L286.51 1041.77 L288.60 1041.77 L290.68 1041.77 L292.77 1041.77 L294.85 1041.77 L296.94 1041.77 L299.02 1041.77 L301.11 1041.76 L303.19 1041.76 L305.28 1041.76 L307.36 1041.76 L309.45 1041.76 L311.53 1041.76 L313.62 1041.76 L315.71 1041.76 L317.79 1041.76 L319.88 1041.76 L321.96 1041.76 L324.05 1041.75 L326.13 1041.75 L328.22 1041.75 L330.30 1041.75 L332.39 1041.75 L334.47 1041.75 L336.56 1041.75 L338.64 1041.75 L340.73 1041.75 L342.81 1041.74 L344.90 1041.74 L346.98 1041.74 L349.07 1041.74 L351.15 1041.74 L353.24 1041.74 L355.32 1041.74 L357.41 1041.73 L359.50 1041.73 L361.58 1041.73 L363.67 1041.73 L365.75 1041.73 L367.84 1041.73 L369.92 1041.72 L372.01 1041.72 L374.09 1041.72 L376.18 1041.72 L378.26 1041.72 L380.35 1041.72 L382.43 1041.71 L384.52 1041.71 L386.60 1041.71 L388.69 1041.71 L390.77 1041.70 L392.86 1041.70 L394.94 1041.70 L397.03 1041.70 L399.11 1041.70 L401.20 1041.69 L403.29 1041.69 L405.37 1041.69 L407.46 1041.69 L409.54 1041.68 L411.63 1041.68 L413.71 1041.68 L415.80 1041.67 L417.88 1041.67 L419.97 1041.67 L422.05 1041.67 L424.14 1041.66 L426.22 1041.66 L428.31 1041.66 L430.39 1041.65 L432.48 1041.65 L434.56 1041.65 L436.65 1041.64 L438.73 1041.64 L440.82 1041.64 L442.91 1041.63 L444.99 1041.63 L447.08 1041.62 L449.16 1041.62 L451.25 1041.62 L453.33 1041.61 L455.42 1041.61 L457.50 1041.60 L459.59 1041.60 L461.67 1041.59 L463.76 1041.59 L465.84 1041.58 L467.93 1041.58 L470.01 1041.57 L472.10 1041.57 L474.18 1041.56 L476.27 1041.56 L478.35 1041.55 L480.44 1041.55 L482.52 1041.54 L484.61 1041.53 L486.70 1041.53 L488.78 1041.52 L490.87 1041.51 L492.95 1041.51 L495.04 1041.50 L497.12 1041.49 L499.21 1041.49 L501.29 1041.48 L503.38 1041.47 L505.46 1041.47 L507.55 1041.46 L509.63 1041.45 L511.72 1041.44 L513.80 1041.43 L515.89 1041.42 L517.97 1041.42 L520.06 1041.41 L522.14 1041.40 L524.23 1041.39 L526.32 1041.38 L528.40 1041.37 L530.49 1041.36 L532.57 1041.35 L534.66 1041.34 L536.74 1041.33 L538.83 1041.32 L540.91 1041.31 L543.00 1041.30 L545.08 1041.28 L547.17 1041.27 L549.25 1041.26 L551.34 1041.25 L553.42 1041.23 L555.51 1041.22 L557.59 1041.21 L559.68 1041.19 L561.76 1041.18 L563.85 1041.17 L565.94 1041.15 L568.02 1041.14 L570.11 1041.12 L572.19 1041.11 L574.28 1041.09 L576.36 1041.07 L578.45 1041.06 L580.53 1041.04 L582.62 1041.02 L584.70 1041.00 L586.79 1040.99 L588.87 1040.97 L590.96 1040.95 L593.04 1040.93 L595.13 1040.91 L597.21 1040.89 L599.30 1040.87 L601.38 1040.85 L603.47 1040.82 L605.55 1040.80 L607.64 1040.78 L609.73 1040.75 L611.81 1040.73 L613.90 1040.71 L615.98 1040.68 L618.07 1040.65 L620.15 1040.63 L622.24 1040.60 L624.32 1040.57 L626.41 1040.55 L628.49 1040.52 L630.58 1040.49 L632.66 1040.46 L634.75 1040.43 L636.83 1040.39 L638.92 1040.36 L641.00 1040.33 L643.09 1040.30 L645.17 1040.26 L647.26 1040.23 L649.35 1040.19 L651.43 1040.15 L653.52 1040.11 L655.60 1040.08 L657.69 1040.04 L659.77 1040.00 L661.86 1039.95 L663.94 1039.91 L666.03 1039.87 L668.11 1039.82 L670.20 1039.78 L672.28 1039.73 L674.37 1039.68 L676.45 1039.64 L678.54 1039.59 L680.62 1039.53 L682.71 1039.48 L684.79 1039.43 L686.88 1039.37 L688.96 1039.32 L691.05 1039.26 L693.14 1039.20 L695.22 1039.14 L697.31 1039.08 L699.39 1039.02 L701.48 1038.96 L703.56 1038.89 L705.65 1038.82 L707.73 1038.76 L709.82 1038.69 L711.90 1038.61 L713.99 1038.54 L716.07 1038.47 L718.16 1038.39 L720.24 1038.31 L722.33 1038.23 L724.41 1038.15 L726.50 1038.06 L728.58 1037.98 L730.67 1037.89 L732.76 1037.80 L734.84 1037.71 L736.93 1037.61 L739.01 1037.51 L741.10 1037.41 L743.18 1037.31 L745.27 1037.21 L747.35 1037.10 L749.44 1036.99 L751.52 1036.88 L753.61 1036.77 L755.69 1036.65 L757.78 1036.53 L759.86 1036.41 L761.95 1036.28 L764.03 1036.15 L766.12 1036.02 L768.20 1035.89 L770.29 1035.75 L772.37 1035.61 L774.46 1035.46 L776.55 1035.32 L778.63 1035.16 L780.72 1035.01 L782.80 1034.85 L784.89 1034.69 L786.97 1034.52 L789.06 1034.35 L791.14 1034.17 L793.23 1033.99 L795.31 1033.81 L797.40 1033.62 L799.48 1033.42 L801.57 1033.22 L803.65 1033.02 L805.74 1032.81 L807.82 1032.60 L809.91 1032.38 L811.99 1032.15 L814.08 1031.92 L816.16 1031.68 L818.25 1031.44 L820.34 1031.19 L822.42 1030.93 L824.51 1030.67 L826.59 1030.40 L828.68 1030.12 L830.76 1029.83 L832.85 1029.54 L834.93 1029.24 L837.02 1028.93 L839.10 1028.61 L841.19 1028.29 L843.27 1027.95 L845.36 1027.61 L847.44 1027.26 L849.53 1026.89 L851.61 1026.52 L853.70 1026.13 L855.78 1025.74 L857.87 1025.33 L859.96 1024.91 L862.04 1024.48 L864.13 1024.04 L866.21 1023.59 L868.30 1023.12 L870.38 1022.63 L872.47 1022.14 L874.55 1021.63 L876.64 1021.10 L878.72 1020.56 L880.81 1020.00 L882.89 1019.42 L884.98 1018.83 L887.06 1018.21 L889.15 1017.58 L891.23 1016.93 L893.32 1016.26 L895.40 1015.57 L897.49 1014.85 L899.58 1014.11 L901.66 1013.35 L903.75 1012.57 L905.83 1011.76 L907.92 1010.92 L910.00 1010.06 L912.09 1009.16 L914.17 1008.24 L916.26 1007.29 L918.34 1006.31 L920.43 1005.29 L922.51 1004.24 L924.60 1003.15 L926.68 1002.03 L928.77 1000.87 L930.85 999.68 L932.94 998.44 L935.02 997.16 L937.11 995.83 L939.19 994.47 L941.28 993.05 L943.37 991.59 L945.45 990.08 L947.54 988.51 L949.62 986.90 L951.71 985.23 L953.79 983.50 L955.88 981.71 L957.96 979.87 L960.05 977.96 L962.13 975.99 L964.22 973.95 L966.30 971.85 L968.39 969.68 L970.47 967.43 L972.56 965.11 L974.64 962.72 L976.73 960.25 L978.81 957.70 L980.90 955.07 L982.99 952.36 L985.07 949.57 L987.16 946.69 L989.24 943.72 L991.33 940.66 L993.41 937.52 L995.50 934.28 L997.58 930.95 L999.67 927.52 L1001.75 924.00 L1003.84 920.39 L1005.92 916.67 L1008.01 912.86 L1010.09 908.95 L1012.18 904.95 L1014.26 900.84 L1016.35 896.64 L1018.43 892.33 L1020.52 887.93 L1022.60 883.44 L1024.69 878.84 L1026.78 874.16 L1028.86 869.37 L1030.95 864.50 L1033.03 859.53 L1035.12 854.47 L1037.20 849.33 L1039.29 844.10 L1041.37 838.79 L1043.46 833.39 L1045.54 827.92 L1047.63 822.38 L1049.71 816.76 L1051.80 811.07 L1053.88 805.32 L1055.97 799.50 L1058.05 793.63 L1060.14 787.70 L1062.22 781.72 L1064.31 775.70 L1066.40 769.62 L1068.48 763.51 L1070.57 757.36 L1072.65 751.18 L1074.74 744.97 L1076.82 738.73 L1078.91 732.47 L1080.99 726.19 L1083.08 719.90 L1085.16 713.60 L1087.25 707.28 L1089.33 700.96 L1091.42 694.64 L1093.50 688.32 L1095.59 682.00 L1097.67 675.69 L1099.76 669.39 L1101.84 663.10 L1103.93 656.82 L1106.01 650.55 L1108.10 644.31 L1110.19 638.08 L1112.27 631.87 L1114.36 625.69 L1116.44 619.52 L1118.53 613.39 L1120.61 607.27 L1122.70 601.19 L1124.78 595.13 L1126.87 589.10 L1128.95 583.10 L1131.04 577.13 L1133.12 571.19 L1135.21 565.28 L1137.29 559.40 L1139.38 553.56 L1141.46 547.74 L1143.55 541.96 L1145.63 536.20 L1147.72 530.48 L1149.81 524.79 L1151.89 519.13 L1153.98 513.50 L1156.06 507.90 L1158.15 502.34 L1160.23 496.80 L1162.32 491.30 L1164.40 485.82 L1166.49 480.38 L1168.57 474.97 L1170.66 469.58 L1172.74 464.23 L1174.83 458.91 L1176.91 453.61 L1179.00 448.35 L1181.08 443.11 L1183.17 437.90 L1185.25 432.72 L1187.34 427.57 L1189.42 422.45 L1191.51 417.36 L1193.60 412.30 L1195.68 407.27 L1197.77 402.26 L1199.85 397.29 L1201.94 392.34 L1204.02 387.43 L1206.11 382.54 L1208.19 377.69 L1210.28 372.86 L1212.36 368.07 L1214.45 363.30 L1216.53 358.57 L1218.62 353.87 L1220.70 349.20 L1222.79 344.57 L1224.87 339.97 L1226.96 335.40 L1229.04 330.87 L1231.13 326.37 L1233.22 321.91 L1235.30 317.49 L1237.39 313.10 L1239.47 308.76 L1241.56 304.45 L1243.64 300.18 L1245.73 295.95 L1247.81 291.77 L1249.90 287.63 L1251.98 283.53 L1254.07 279.47 L1256.15 275.47 L1258.24 271.51 L1260.32 267.59 L1262.41 263.73 L1264.49 259.92 L1266.58 256.16 L1268.66 252.45 L1270.75 248.80 L1272.83 245.20 L1274.92 241.66 L1277.01 238.17 L1279.09 234.75 L1281.18 231.39 L1283.26 228.09 L1285.35 224.85 L1287.43 221.68 L1289.52 218.57 L1291.60 215.53 L1293.69 212.56 L1295.77 209.66 L1297.86 206.84 L1299.94 204.08 L1302.03 201.41 L1304.11 198.80 L1306.20 196.28 L1308.28 193.84 L1310.37 191.48 L1312.45 189.20 L1314.54 187.01 L1316.62 184.90 L1318.71 182.88 L1320.80 180.95 L1322.88 179.11 L1324.97 177.36 L1327.05 175.70 L1329.14 174.15 L1331.22 172.68 L1333.31 171.32 L1335.39 170.06 L1337.48 168.90 L1339.56 167.84 L1341.65 166.88 L1343.73 166.04 L1345.82 165.30 L1347.90 164.67 L1349.99 164.15 L1352.07 163.74 L1354.16 163.44 L1356.24 163.26 L1358.33 163.20 L1360.42 163.25 L1362.50 163.42 L1364.59 163.71 L1366.67 164.12 L1368.76 164.66 L1370.84 165.31 L1372.93 166.09 L1375.01 167.00 L1377.10 168.04 L1379.18 169.20 L1381.27 170.49 L1383.35 171.91 L1385.44 173.46 L1387.52 175.14 L1389.61 176.95 L1391.69 178.90 L1393.78 180.97 L1395.86 183.19 L1397.95 185.53 L1400.04 188.01 L1402.12 190.63 L1404.21 193.38 L1406.29 196.27 L1408.38 199.29 L1410.46 202.45 L1412.55 205.75 L1414.63 209.18 L1416.72 212.75 L1418.80 216.45 L1420.89 220.29 L1422.97 224.27 L1425.06 228.38 L1427.14 232.62 L1429.23 237.00 L1431.31 241.52 L1433.40 246.16 L1435.48 250.94 L1437.57 255.84 L1439.65 260.88 L1441.74 266.05 L1443.83 271.34 L1445.91 276.77 L1448.00 282.31 L1450.08 287.98 L1452.17 293.77 L1454.25 299.69 L1456.34 305.72 L1458.42 311.87 L1460.51 318.14 L1462.59 324.51 L1464.68 331.00 L1466.76 337.60 L1468.85 344.31 L1470.93 351.12 L1473.02 358.04 L1475.10 365.05 L1477.19 372.16 L1479.27 379.37 L1481.36 386.66 L1483.44 394.05 L1485.53 401.52 L1487.62 409.08 L1489.70 416.72 L1491.79 424.43 L1493.87 432.22 L1495.96 440.07 L1498.04 448.00 L1500.13 455.99 L1502.21 464.03 L1504.30 472.14 L1506.38 480.30 L1508.47 488.51 L1510.55 496.76 L1512.64 505.05 L1514.72 513.39 L1516.81 521.75 L1518.89 530.15 L1520.98 538.58 L1523.06 547.02 L1525.15 555.49 L1527.24 563.97 L1529.32 572.45 L1531.41 580.95 L1533.49 589.45 L1535.58 597.94 L1537.66 606.44 L1539.75 614.92 L1541.83 623.38 L1543.92 631.83 L1546.00 640.26 L1548.09 648.66 L1550.17 657.02 L1552.26 665.36 L1554.34 673.66 L1556.43 681.91 L1558.51 690.12 L1560.60 698.28 L1562.68 706.39 L1564.77 714.44 L1566.86 722.43 L1568.94 730.35 L1571.03 738.21 L1573.11 745.99 L1575.20 753.70 L1577.28 761.34 L1579.37 768.89 L1581.45 776.36 L1583.54 783.74 L1585.62 791.03 L1587.71 798.23 L1589.79 805.33 L1591.88 812.33 L1593.96 819.24 L1596.05 826.04 L1598.13 832.74 L1600.22 839.33 L1602.30 845.81 L1604.39 852.18 L1606.47 858.44 L1608.56 864.58 L1610.65 870.61 L1612.73 876.52 L1614.82 882.32 L1616.90 887.99 L1618.99 893.55 L1621.07 898.98 L1623.16 904.29 L1625.24 909.49 L1627.33 914.55 L1629.41 919.50 L1631.50 924.32 L1633.58 929.03 L1635.67 933.60 L1637.75 938.06 L1639.84 942.39 L1641.92 946.61 L1644.01 950.70 L1646.09 954.67 L1648.18 958.52 L1650.27 962.26 L1652.35 965.88 L1654.44 969.38 L1656.52 972.77 L1658.61 976.04 L1660.69 979.20 L1662.78 982.26 L1664.86 985.20 L1666.95 988.04 L1669.03 990.77 L1671.12 993.40 L1673.20 995.93 L1675.29 998.36 L1677.37 1000.69 L1679.46 1002.92 L1681.54 1005.07 L1683.63 1007.12 L1685.71 1009.08 L1687.80 1010.96 L1689.88 1012.75 L1691.97 1014.47 L1694.06 1016.10 L1696.14 1017.65 L1698.23 1019.14 L1700.31 1020.54 L1702.40 1021.88 L1704.48 1023.15 L1706.57 1024.36 L1708.65 1025.50 L1710.74 1026.58 L1712.82 1027.60 L1714.91 1028.57 L1716.99 1029.48 L1719.08 1030.34 L1721.16 1031.15 L1723.25 1031.92 L1725.33 1032.63 L1727.42 1033.31 L1729.50 1033.94 L1731.59 1034.53 L1733.67 1035.09 L1735.76 1035.61 L1737.85 1036.09 L1739.93 1036.55 L1742.02 1036.97 L1744.10 1037.36 L1746.19 1037.73 L1748.27 1038.07 L1750.36 1038.38 L1752.44 1038.67 L1754.53 1038.94 L1756.61 1039.20 L1758.70 1039.43 L1760.78 1039.64 L1762.87 1039.84 L1764.95 1040.02 L1767.04 1040.18 L1769.12 1040.34 L1771.21 1040.48 L1773.29 1040.60 L1775.38 1040.72 L1777.47 1040.83 L1779.55 1040.93 L1781.64 1041.01 L1783.72 1041.09 L1785.81 1041.17 L1787.89 1041.23 L1789.98 1041.29 L1792.06 1041.35 L1794.15 1041.40 L1796.23 1041.44 L1798.32 1041.48 L1800.40 1041.52 L1802.49 1041.55 L1804.57 1041.58 L1806.66 1041.61 L1808.74 1041.63 L1810.83 1041.65 L1812.91 1041.67 L1815.00 1041.68 L1817.09 1041.70 L1819.17 1041.71 L1821.26 1041.72 L1823.34 1041.73 L1825.43 1041.74 L1827.51 1041.75 L1829.60 1041.76 L1831.68 1041.76 L1833.77 1041.77 L1835.85 1041.77 L1837.94 1041.78 L1840.02 1041.78 L1842.11 1041.78 L1844.19 1041.78 L1846.28 1041.79 L1848.36 1041.79 L1850.45 1041.79 L1852.53 1041.79 L1854.62 1041.79 L1856.70 1041.79 L1858.79 1041.80 L1860.88 1041.80 L1862.96 1041.80 L1865.05 1041.80 L1867.13 1041.80 L1869.22 1041.80 L1871.30 1041.80 L1873.39 1041.80 L1875.47 1041.80 L1877.56 1041.80 L1879.64 1041.80 L1881.73 1041.80 L1883.81 1041.80 L1885.90 1041.80 L1887.98 1041.80 L1890.07 1041.80 L1892.15 1041.80 L1894.24 1041.80 L1896.32 1041.80 L1898.41 1041.80 L1900.50 1041.80 L1902.58 1041.80 L1904.67 1041.80 L1906.75 1041.80 L1908.84 1041.80 L1910.92 1041.80 L1913.01 1041.80 L1915.09 1041.80 L1917.18 1041.80 L1919.26 1041.80 L1921.35 1041.80 L1923.43 1041.80 L1925.52 1041.80 L1927.60 1041.80 L1929.69 1041.80 L1931.77 1041.80 L1933.86 1041.80 L1935.94 1041.80 L1938.03 1041.80 L1940.11 1041.80 L1942.20 1041.80" stroke="#f00" stroke-width="9.81" fill="none" stroke-dasharray="9.81 39.23" stroke-dashoffset="4.0"/>
<path d="M274.00 1041.77 L276.09 1041.77 L278.17 1041.77 L280.26 1041.77 L282.34 1041.77 L284.43 1041.77 L286.51 1041.77 L288.60 1041.77 L290.68 1041.77 L292.77 1041.77 L294.85 1041.77 L296.94 1041.77 L299.02 1041.77 L301.11 1041.76 L303.19 1041.76 L305.28 1041.76 L307.36 1041.76 L309.45 1041.76 L311.53 1041.76 L313.62 1041.76 L315.71 1041.76 L317.79 1041.76 L319.88 1041.76 L321.96 1041.76 L324.05 1041.75 L326.13 1041.75 L328.22 1041.75 L330.30 1041.75 L332.39 1041.75 L334.47 1041.75 L336.56 1041.75 L338.64 1041.75 L340.73 1041.75 L342.81 1041.74 L344.90 1041.74 L346.98 1041.74 L349.07 1041.74 L351.15 1041.74 L353.24 1041.74 L355.32 1041.74 L357.41 1041.73 L359.50 1041.73 L361.58 1041.73 L363.67 1041.73 L365.75 1041.73 L367.84 1041.73 L369.92 1041.72 L372.01 1041.72 L374.09 1041.72 L376.18 1041.72 L378.26 1041.72 L380.35 1041.72 L382.43 1041.71 L384.52 1041.71 L386.60 1041.71 L388.69 1041.71 L390.77 1041.70 L392.86 1041.70 L394.94 1041.70 L397.03 1041.70 L399.11 1041.70 L401.20 1041.69 L403.29 1041.69 L405.37 1041.69 L407.46 1041.69 L409.54 1041.68 L411.63 1041.68 L413.71 1041.68 L415.80 1041.67 L417.88 1041.67 L419.97 1041.67 L422.05 1041.67 L424.14 1041.66 L426.22 1041.66 L428.31 1041.66 L430.39 1041.65 L432.48 1041.65 L434.56 1041.65 L436.65 1041.64 L438.73 1041.64 L440.82 1041.64 L442.91 1041.63 L444.99 1041.63 L447.08 1041.62 L449.16 1041.62 L451.25 1041.62 L453.33 1041.61 L455.42 1041.61 L457.50 1041.60 L459.59 1041.60 L461.67 1041.59 L463.76 1041.59 L465.84 1041.58 L467.93 1041.58 L470.01 1041.57 L472.10 1041.57 L474.18 1041.56 L476.27 1041.56 L478.35 1041.55 L480.44 1041.55 L482.52 1041.54 L484.61 1041.53 L486.70 1041.53 L488.78 1041.52 L490.87 1041.51 L492.95 1041.51 L495.04 1041.50 L497.12 1041.49 L499.21 1041.49 L501.29 1041.48 L503.38 1041.47 L505.46 1041.46 L507.55 1041.46 L509.63 1041.45 L511.72 1041.44 L513.80 1041.43 L515.89 1041.42 L517.97 1041.42 L520.06 1041.41 L522.14 1041.40 L524.23 1041.39 L526.32 1041.38 L528.40 1041.37 L530.49 1041.36 L532.57 1041.35 L534.66 1041.34 L536.74 1041.33 L538.83 1041.32 L540.91 1041.30 L543.00 1041.29 L545.08 1041.28 L547.17 1041.27 L549.25 1041.26 L551.34 1041.24 L553.42 1041.23 L555.51 1041.22 L557.59 1041.20 L559.68 1041.19 L561.76 1041.18 L563.85 1041.16 L565.94 1041.15 L568.02 1041.13 L570.11 1041.12 L572.19 1041.10 L574.28 1041.08 L576.36 1041.07 L578.45 1041.05 L580.53 1041.03 L582.62 1041.02 L584.70 1041.00 L586.79 1040.98 L588.87 1040.96 L590.96 1040.94 L593.04 1040.92 L595.13 1040.90 L597.21 1040.88 L599.30 1040.86 L601.38 1040.83 L603.47 1040.81 L605.55 1040.79 L607.64 1040.76 L609.73 1040.74 L611.81 1040.72 L613.90 1040.69 L615.98 1040.66 L618.07 1040.64 L620.15 1040.61 L622.24 1040.58 L624.32 1040.55 L626.41 1040.52 L628.49 1040.49 L630.58 1040.46 L632.66 1040.43 L634.75 1040.40 L636.83 1040.36 L638.92 1040.33 L641.00 1040.30 L643.09 1040.26 L645.17 1040.22 L647.26 1040.19 L649.35 1040.15 L651.43 1040.11 L653.52 1040.07 L655.60 1040.03 L657.69 1039.98 L659.77 1039.94 L661.86 1039.89 L663.94 1039.85 L666.03 1039.80 L668.11 1039.75 L670.20 1039.70 L672.28 1039.65 L674.37 1039.60 L676.45 1039.55 L678.54 1039.49 L680.62 1039.44 L682.71 1039.38 L684.79 1039.32 L686.88 1039.26 L688.96 1039.20 L691.05 1039.13 L693.14 1039.07 L695.22 1039.00 L697.31 1038.93 L699.39 1038.86 L701.48 1038.78 L703.56 1038.71 L705.65 1038.63 L707.73 1038.55 L709.82 1038.47 L711.90 1038.38 L713.99 1038.30 L716.07 1038.21 L718.16 1038.12 L720.24 1038.02 L722.33 1037.93 L724.41 1037.83 L726.50 1037.72 L728.58 1037.62 L730.67 1037.51 L732.76 1037.39 L734.84 1037.28 L736.93 1037.16 L739.01 1037.04 L741.10 1036.91 L743.18 1036.78 L745.27 1036.64 L747.35 1036.51 L749.44 1036.36 L751.52 1036.22 L753.61 1036.06 L755.69 1035.91 L757.78 1035.74 L759.86 1035.57 L761.95 1035.40 L764.03 1035.22 L766.12 1035.04 L768.20 1034.85 L770.29 1034.65 L772.37 1034.44 L774.46 1034.23 L776.55 1034.01 L778.63 1033.79 L780.72 1033.55 L782.80 1033.31 L784.89 1033.06 L786.97 1032.80 L789.06 1032.53 L791.14 1032.26 L793.23 1031.97 L795.31 1031.67 L797.40 1031.36 L799.48 1031.04 L801.57 1030.71 L803.65 1030.36 L805.74 1030.00 L807.82 1029.63 L809.91 1029.25 L811.99 1028.85 L814.08 1028.43 L816.16 1028.00 L818.25 1027.55 L820.34 1027.09 L822.42 1026.61 L824.51 1026.10 L826.59 1025.58 L828.68 1025.04 L830.76 1024.48 L832.85 1023.90 L834.93 1023.29 L837.02 1022.66 L839.10 1022.01 L841.19 1021.33 L843.27 1020.62 L845.36 1019.89 L847.44 1019.12 L849.53 1018.33 L851.61 1017.51 L853.70 1016.65 L855.78 1015.76 L857.87 1014.83 L859.96 1013.87 L862.04 1012.87 L864.13 1011.84 L866.21 1010.76 L868.30 1009.64 L870.38 1008.48 L872.47 1007.28 L874.55 1006.02 L876.64 1004.73 L878.72 1003.38 L880.81 1001.98 L882.89 1000.54 L884.98 999.03 L887.06 997.48 L889.15 995.87 L891.23 994.20 L893.32 992.47 L895.40 990.69 L897.49 988.84 L899.58 986.93 L901.66 984.96 L903.75 982.92 L905.83 980.81 L907.92 978.64 L910.00 976.40 L912.09 974.09 L914.17 971.71 L916.26 969.27 L918.34 966.75 L920.43 964.15 L922.51 961.49 L924.60 958.76 L926.68 955.95 L928.77 953.07 L930.85 950.12 L932.94 947.09 L935.02 944.00 L937.11 940.83 L939.19 937.59 L941.28 934.29 L943.37 930.91 L945.45 927.47 L947.54 923.96 L949.62 920.38 L951.71 916.75 L953.79 913.05 L955.88 909.29 L957.96 905.47 L960.05 901.60 L962.13 897.67 L964.22 893.69 L966.30 889.66 L968.39 885.58 L970.47 881.46 L972.56 877.29 L974.64 873.08 L976.73 868.83 L978.81 864.55 L980.90 860.23 L982.99 855.88 L985.07 851.51 L987.16 847.10 L989.24 842.67 L991.33 838.22 L993.41 833.74 L995.50 829.25 L997.58 824.75 L999.67 820.22 L1001.75 815.69 L1003.84 811.15 L1005.92 806.59 L1008.01 802.03 L1010.09 797.46 L1012.18 792.89 L1014.26 788.32 L1016.35 783.74 L1018.43 779.16 L1020.52 774.59 L1022.60 770.01 L1024.69 765.44 L1026.78 760.86 L1028.86 756.30 L1030.95 751.73 L1033.03 747.17 L1035.12 742.62 L1037.20 738.07 L1039.29 733.52 L1041.37 728.98 L1043.46 724.45 L1045.54 719.92 L1047.63 715.40 L1049.71 710.88 L1051.80 706.37 L1053.88 701.87 L1055.97 697.37 L1058.05 692.87 L1060.14 688.38 L1062.22 683.90 L1064.31 679.42 L1066.40 674.94 L1068.48 670.47 L1070.57 666.00 L1072.65 661.53 L1074.74 657.07 L1076.82 652.61 L1078.91 648.15 L1080.99 643.69 L1083.08 639.24 L1085.16 634.78 L1087.25 630.33 L1089.33 625.87 L1091.42 621.42 L1093.50 616.96 L1095.59 612.51 L1097.67 608.05 L1099.76 603.59 L1101.84 599.13 L1103.93 594.67 L1106.01 590.20 L1108.10 585.73 L1110.19 581.26 L1112.27 576.79 L1114.36 572.31 L1116.44 567.83 L1118.53 563.35 L1120.61 558.86 L1122.70 554.37 L1124.78 549.88 L1126.87 545.38 L1128.95 540.88 L1131.04 536.37 L1133.12 531.86 L1135.21 527.34 L1137.29 522.83 L1139.38 518.30 L1141.46 513.78 L1143.55 509.25 L1145.63 504.72 L1147.72 500.18 L1149.81 495.65 L1151.89 491.10 L1153.98 486.56 L1156.06 482.02 L1158.15 477.47 L1160.23 472.92 L1162.32 468.37 L1164.40 463.82 L1166.49 459.27 L1168.57 454.72 L1170.66 450.16 L1172.74 445.61 L1174.83 441.06 L1176.91 436.52 L1179.00 431.97 L1181.08 427.43 L1183.17 422.89 L1185.25 418.36 L1187.34 413.83 L1189.42 409.31 L1191.51 404.79 L1193.60 400.28 L1195.68 395.78 L1197.77 391.28 L1199.85 386.80 L1201.94 382.32 L1204.02 377.86 L1206.11 373.41 L1208.19 368.97 L1210.28 364.54 L1212.36 360.13 L1214.45 355.73 L1216.53 351.35 L1218.62 346.99 L1220.70 342.64 L1222.79 338.32 L1224.87 334.01 L1226.96 329.73 L1229.04 325.47 L1231.13 321.23 L1233.22 317.02 L1235.30 312.83 L1237.39 308.67 L1239.47 304.54 L1241.56 300.44 L1243.64 296.37 L1245.73 292.33 L1247.81 288.32 L1249.90 284.35 L1251.98 280.42 L1254.07 276.52 L1256.15 272.66 L1258.24 268.85 L1260.32 265.07 L1262.41 261.34 L1264.49 257.65 L1266.58 254.00 L1268.66 250.41 L1270.75 246.86 L1272.83 243.36 L1274.92 239.92 L1277.01 236.53 L1279.09 233.19 L1281.18 229.91 L1283.26 226.69 L1285.35 223.53 L1287.43 220.42 L1289.52 217.39 L1291.60 214.41 L1293.69 211.50 L1295.77 208.66 L1297.86 205.89 L1299.94 203.19 L1302.03 200.56 L1304.11 198.01 L1306.20 195.53 L1308.28 193.13 L1310.37 190.81 L1312.45 188.57 L1314.54 186.41 L1316.62 184.34 L1318.71 182.35 L1320.80 180.45 L1322.88 178.64 L1324.97 176.92 L1327.05 175.29 L1329.14 173.76 L1331.22 172.32 L1333.31 170.98 L1335.39 169.74 L1337.48 168.59 L1339.56 167.55 L1341.65 166.62 L1343.73 165.79 L1345.82 165.06 L1347.90 164.45 L1349.99 163.94 L1352.07 163.54 L1354.16 163.26 L1356.24 163.09 L1358.33 163.04 L1360.42 163.10 L1362.50 163.28 L1364.59 163.58 L1366.67 164.00 L1368.76 164.54 L1370.84 165.21 L1372.93 166.00 L1375.01 166.91 L1377.10 167.95 L1379.18 169.12 L1381.27 170.41 L1383.35 171.84 L1385.44 173.39 L1387.52 175.08 L1389.61 176.89 L1391.69 178.84 L1393.78 180.93 L1395.86 183.14 L1397.95 185.49 L1400.04 187.98 L1402.12 190.59 L1404.21 193.35 L1406.29 196.24 L1408.38 199.27 L1410.46 202.43 L1412.55 205.73 L1414.63 209.16 L1416.72 212.73 L1418.80 216.43 L1420.89 220.28 L1422.97 224.25 L1425.06 228.36 L1427.14 232.61 L1429.23 236.99 L1431.31 241.50 L1433.40 246.15 L1435.48 250.93 L1437.57 255.84 L1439.65 260.87 L1441.74 266.04 L1443.83 271.34 L1445.91 276.76 L1448.00 282.31 L1450.08 287.98 L1452.17 293.77 L1454.25 299.68 L1456.34 305.72 L1458.42 311.87 L1460.51 318.13 L1462.59 324.51 L1464.68 331.00 L1466.76 337.60 L1468.85 344.31 L1470.93 351.12 L1473.02 358.03 L1475.10 365.05 L1477.19 372.16 L1479.27 379.37 L1481.36 386.66 L1483.44 394.05 L1485.53 401.52 L1487.62 409.08 L1489.70 416.72 L1491.79 424.43 L1493.87 432.22 L1495.96 440.07 L1498.04 448.00 L1500.13 455.99 L1502.21 464.03 L1504.30 472.14 L1506.38 480.30 L1508.47 488.50 L1510.55 496.76 L1512.64 505.05 L1514.72 513.39 L1516.81 521.75 L1518.89 530.15 L1520.98 538.57 L1523.06 547.02 L1525.15 555.49 L1527.24 563.97 L1529.32 572.45 L1531.41 580.95 L1533.49 589.45 L1535.58 597.94 L1537.66 606.44 L1539.75 614.92 L1541.83 623.38 L1543.92 631.83 L1546.00 640.26 L1548.09 648.66 L1550.17 657.02 L1552.26 665.36 L1554.34 673.66 L1556.43 681.91 L1558.51 690.12 L1560.60 698.28 L1562.68 706.39 L1564.77 714.44 L1566.86 722.43 L1568.94 730.35 L1571.03 738.21 L1573.11 745.99 L1575.20 753.70 L1577.28 761.34 L1579.37 768.89 L1581.45 776.36 L1583.54 783.74 L1585.62 791.03 L1587.71 798.23 L1589.79 805.33 L1591.88 812.33 L1593.96 819.24 L1596.05 826.04 L1598.13 832.74 L1600.22 839.33 L1602.30 845.81 L1604.39 852.18 L1606.47 858.44 L1608.56 864.58 L1610.65 870.61 L1612.73 876.52 L1614.82 882.32 L1616.90 887.99 L1618.99 893.55 L1621.07 898.98 L1623.16 904.29 L1625.24 909.49 L1627.33 914.55 L1629.41 919.50 L1631.50 924.32 L1633.58 929.03 L1635.67 933.60 L1637.75 938.06 L1639.84 942.39 L1641.92 946.61 L1644.01 950.70 L1646.09 954.67 L1648.18 958.52 L1650.27 962.26 L1652.35 965.88 L1654.44 969.38 L1656.52 972.77 L1658.61 976.04 L1660.69 979.20 L1662.78 982.26 L1664.86 985.20 L1666.95 988.04 L1669.03 990.77 L1671.12 993.40 L1673.20 995.93 L1675.29 998.36 L1677.37 1000.69 L1679.46 1002.92 L1681.54 1005.07 L1683.63 1007.12 L1685.71 1009.08 L1687.80 1010.96 L1689.88 1012.75 L1691.97 1014.47 L1694.06 1016.10 L1696.14 1017.65 L1698.23 1019.14 L1700.31 1020.54 L1702.40 1021.88 L1704.48 1023.15 L1706.57 1024.36 L1708.65 1025.50 L1710.74 1026.58 L1712.82 1027.60 L1714.91 1028.57 L1716.99 1029.48 L1719.08 1030.34 L1721.16 1031.15 L1723.25 1031.92 L1725.33 1032.63 L1727.42 1033.31 L1729.50 1033.94 L1731.59 1034.53 L1733.67 1035.09 L1735.76 1035.61 L1737.85 1036.09 L1739.93 1036.55 L1742.02 1036.97 L1744.10 1037.36 L1746.19 1037.73 L1748.27 1038.07 L1750.36 1038.38 L1752.44 1038.67 L1754.53 1038.94 L1756.61 1039.20 L1758.70 1039.43 L1760.78 1039.64 L1762.87 1039.84 L1764.95 1040.02 L1767.04 1040.18 L1769.12 1040.34 L1771.21 1040.48 L1773.29 1040.60 L1775.38 1040.72 L1777.47 1040.83 L1779.55 1040.93 L1781.64 1041.01 L1783.72 1041.09 L1785.81 1041.17 L1787.89 1041.23 L1789.98 1041.29 L1792.06 1041.35 L1794.15 1041.40 L1796.23 1041.44 L1798.32 1041.48 L1800.40 1041.52 L1802.49 1041.55 L1804.57 1041.58 L1806.66 1041.61 L1808.74 1041.63 L1810.83 1041.65 L1812.91 1041.67 L1815.00 1041.68 L1817.09 1041.70 L1819.17 1041.71 L1821.26 1041.72 L1823.34 1041.73 L1825.43 1041.74 L1827.51 1041.75 L1829.60 1041.76 L1831.68 1041.76 L1833.77 1041.77 L1835.85 1041.77 L1837.94 1041.78 L1840.02 1041.78 L1842.11 1041.78 L1844.19 1041.78 L1846.28 1041.79 L1848.36 1041.79 L1850.45 1041.79 L1852.53 1041.79 L1854.62 1041.79 L1856.70 1041.79 L1858.79 1041.80 L1860.88 1041.80 L1862.96 1041.80 L1865.05 1041.80 L1867.13 1041.80 L1869.22 1041.80 L1871.30 1041.80 L1873.39 1041.80 L1875.47 1041.80 L1877.56 1041.80 L1879.64 1041.80 L1881.73 1041.80 L1883.81 1041.80 L1885.90 1041.80 L1887.98 1041.80 L1890.07 1041.80 L1892.15 1041.80 L1894.24 1041.80 L1896.32 1041.80 L1898.41 1041.80 L1900.50 1041.80 L1902.58 1041.80 L1904.67 1041.80 L1906.75 1041.80 L1908.84 1041.80 L1910.92 1041.80 L1913.01 1041.80 L1915.09 1041.80 L1917.18 1041.80 L1919.26 1041.80 L1921.35 1041.80 L1923.43 1041.80 L1925.52 1041.80 L1927.60 1041.80 L1929.69 1041.80 L1931.77 1041.80 L1933.86 1041.80 L1935.94 1041.80 L1938.03 1041.80 L1940.11 1041.80 L1942.20 1041.80" stroke="#f00" stroke-width="7.36" fill="none" stroke-dasharray="58.85 29.42 7.36 29.42" stroke-dashoffset="0.0"/>
<path d="M274.00 1041.77 L276.09 1041.77 L278.17 1041.77 L280.26 1041.77 L282.34 1041.77 L284.43 1041.77 L286.51 1041.77 L288.60 1041.77 L290.68 1041.77 L292.77 1041.77 L294.85 1041.77 L296.94 1041.77 L299.02 1041.77 L301.11 1041.76 L303.19 1041.76 L305.28 1041.76 L307.36 1041.76 L309.45 1041.76 L311.53 1041.76 L313.62 1041.76 L315.71 1041.76 L317.79 1041.76 L319.88 1041.76 L321.96 1041.76 L324.05 1041.75 L326.13 1041.75 L328.22 1041.75 L330.30 1041.75 L332.39 1041.75 L334.47 1041.75 L336.56 1041.75 L338.64 1041.75 L340.73 1041.75 L342.81 1041.74 L344.90 1041.74 L346.98 1041.74 L349.07 1041.74 L351.15 1041.74 L353.24 1041.74 L355.32 1041.74 L357.41 1041.73 L359.50 1041.73 L361.58 1041.73 L363.67 1041.73 L365.75 1041.73 L367.84 1041.73 L369.92 1041.72 L372.01 1041.72 L374.09 1041.72 L376.18 1041.72 L378.26 1041.72 L380.35 1041.71 L382.43 1041.71 L384.52 1041.71 L386.60 1041.71 L388.69 1041.71 L390.77 1041.70 L392.86 1041.70 L394.94 1041.70 L397.03 1041.70 L399.11 1041.70 L401.20 1041.69 L403.29 1041.69 L405.37 1041.69 L407.46 1041.68 L409.54 1041.68 L411.63 1041.68 L413.71 1041.68 L415.80 1041.67 L417.88 1041.67 L419.97 1041.67 L422.05 1041.66 L424.14 1041.66 L426.22 1041.66 L428.31 1041.65 L430.39 1041.65 L432.48 1041.65 L434.56 1041.64 L436.65 1041.64 L438.73 1041.64 L440.82 1041.63 L442.91 1041.63 L444.99 1041.62 L447.08 1041.62 L449.16 1041.62 L451.25 1041.61 L453.33 1041.61 L455.42 1041.60 L457.50 1041.60 L459.59 1041.59 L461.67 1041.59 L463.76 1041.58 L465.84 1041.58 L467.93 1041.57 L470.01 1041.57 L472.10 1041.56 L474.18 1041.56 L476.27 1041.55 L478.35 1041.54 L480.44 1041.54 L482.52 1041.53 L484.61 1041.53 L486.70 1041.52 L488.78 1041.51 L490.87 1041.51 L492.95 1041.50 L495.04 1041.49 L497.12 1041.48 L499.21 1041.48 L501.29 1041.47 L503.38 1041.46 L505.46 1041.45 L507.55 1041.44 L509.63 1041.43 L511.72 1041.42 L513.80 1041.42 L515.89 1041.41 L517.97 1041.40 L520.06 1041.39 L522.14 1041.38 L524.23 1041.36 L526.32 1041.35 L528.40 1041.34 L530.49 1041.33 L532.57 1041.32 L534.66 1041.31 L536.74 1041.29 L538.83 1041.28 L540.91 1041.27 L543.00 1041.26 L545.08 1041.24 L547.17 1041.23 L549.25 1041.21 L551.34 1041.20 L553.42 1041.18 L555.51 1041.16 L557.59 1041.15 L559.68 1041.13 L561.76 1041.11 L563.85 1041.09 L565.94 1041.08 L568.02 1041.06 L570.11 1041.04 L572.19 1041.02 L574.28 1040.99 L576.36 1040.97 L578.45 1040.95 L580.53 1040.93 L582.62 1040.90 L584.70 1040.88 L586.79 1040.85 L588.87 1040.83 L590.96 1040.80 L593.04 1040.77 L595.13 1040.74 L597.21 1040.71 L599.30 1040.68 L601.38 1040.65 L603.47 1040.61 L605.55 1040.58 L607.64 1040.54 L609.73 1040.50 L611.81 1040.47 L613.90 1040.43 L615.98 1040.38 L618.07 1040.34 L620.15 1040.30 L622.24 1040.25 L624.32 1040.20 L626.41 1040.15 L628.49 1040.10 L630.58 1040.05 L632.66 1039.99 L634.75 1039.93 L636.83 1039.87 L638.92 1039.81 L641.00 1039.75 L643.09 1039.68 L645.17 1039.61 L647.26 1039.54 L649.35 1039.46 L651.43 1039.38 L653.52 1039.30 L655.60 1039.21 L657.69 1039.12 L659.77 1039.03 L661.86 1038.93 L663.94 1038.83 L666.03 1038.73 L668.11 1038.62 L670.20 1038.50 L672.28 1038.38 L674.37 1038.26 L676.45 1038.13 L678.54 1037.99 L680.62 1037.85 L682.71 1037.70 L684.79 1037.55 L686.88 1037.39 L688.96 1037.22 L691.05 1037.04 L693.14 1036.86 L695.22 1036.67 L697.31 1036.47 L699.39 1036.26 L701.48 1036.04 L703.56 1035.81 L705.65 1035.57 L707.73 1035.32 L709.82 1035.06 L711.90 1034.79 L713.99 1034.50 L716.07 1034.21 L718.16 1033.90 L720.24 1033.57 L722.33 1033.23 L724.41 1032.88 L726.50 1032.51 L728.58 1032.12 L730.67 1031.72 L732.76 1031.30 L734.84 1030.86 L736.93 1030.40 L739.01 1029.92 L741.10 1029.42 L743.18 1028.90 L745.27 1028.35 L747.35 1027.78 L749.44 1027.19 L751.52 1026.58 L753.61 1025.93 L755.69 1025.27 L757.78 1024.57 L759.86 1023.84 L761.95 1023.09 L764.03 1022.31 L766.12 1021.49 L768.20 1020.64 L770.29 1019.76 L772.37 1018.85 L774.46 1017.90 L776.55 1016.92 L778.63 1015.90 L780.72 1014.84 L782.80 1013.75 L784.89 1012.62 L786.97 1011.45 L789.06 1010.24 L791.14 1008.99 L793.23 1007.70 L795.31 1006.37 L797.40 1004.99 L799.48 1003.58 L801.57 1002.12 L803.65 1000.62 L805.74 999.08 L807.82 997.50 L809.91 995.87 L811.99 994.20 L814.08 992.49 L816.16 990.74 L818.25 988.95 L820.34 987.11 L822.42 985.24 L824.51 983.32 L826.59 981.37 L828.68 979.37 L830.76 977.34 L832.85 975.27 L834.93 973.17 L837.02 971.03 L839.10 968.85 L841.19 966.65 L843.27 964.41 L845.36 962.14 L847.44 959.83 L849.53 957.50 L851.61 955.15 L853.70 952.76 L855.78 950.36 L857.87 947.92 L859.96 945.47 L862.04 942.99 L864.13 940.50 L866.21 937.98 L868.30 935.45 L870.38 932.90 L872.47 930.34 L874.55 927.76 L876.64 925.17 L878.72 922.56 L880.81 919.94 L882.89 917.32 L884.98 914.68 L887.06 912.03 L889.15 909.38 L891.23 906.72 L893.32 904.05 L895.40 901.37 L897.49 898.69 L899.58 896.00 L901.66 893.31 L903.75 890.61 L905.83 887.91 L907.92 885.21 L910.00 882.50 L912.09 879.78 L914.17 877.07 L916.26 874.34 L918.34 871.62 L920.43 868.89 L922.51 866.16 L924.60 863.43 L926.68 860.69 L928.77 857.94 L930.85 855.20 L932.94 852.44 L935.02 849.69 L937.11 846.93 L939.19 844.16 L941.28 841.39 L943.37 838.61 L945.45 835.83 L947.54 833.04 L949.62 830.24 L951.71 827.44 L953.79 824.63 L955.88 821.81 L957.96 818.99 L960.05 816.15 L962.13 813.31 L964.22 810.46 L966.30 807.60 L968.39 804.72 L970.47 801.84 L972.56 798.95 L974.64 796.05 L976.73 793.13 L978.81 790.21 L980.90 787.27 L982.99 784.32 L985.07 781.36 L987.16 778.38 L989.24 775.39 L991.33 772.38 L993.41 769.37 L995.50 766.33 L997.58 763.29 L999.67 760.22 L1001.75 757.15 L1003.84 754.05 L1005.92 750.94 L1008.01 747.82 L1010.09 744.68 L1012.18 741.52 L1014.26 738.34 L1016.35 735.15 L1018.43 731.94 L1020.52 728.71 L1022.60 725.46 L1024.69 722.20 L1026.78 718.92 L1028.86 715.61 L1030.95 712.29 L1033.03 708.96 L1035.12 705.60 L1037.20 702.22 L1039.29 698.82 L1041.37 695.41 L1043.46 691.97 L1045.54 688.52 L1047.63 685.04 L1049.71 681.55 L1051.80 678.03 L1053.88 674.50 L1055.97 670.94 L1058.05 667.37 L1060.14 663.77 L1062.22 660.16 L1064.31 656.52 L1066.40 652.87 L1068.48 649.19 L1070.57 645.49 L1072.65 641.78 L1074.74 638.04 L1076.82 634.28 L1078.91 630.51 L1080.99 626.71 L1083.08 622.89 L1085.16 619.05 L1087.25 615.20 L1089.33 611.32 L1091.42 607.43 L1093.50 603.51 L1095.59 599.58 L1097.67 595.62 L1099.76 591.65 L1101.84 587.66 L1103.93 583.65 L1106.01 579.62 L1108.10 575.57 L1110.19 571.51 L1112.27 567.43 L1114.36 563.33 L1116.44 559.21 L1118.53 555.08 L1120.61 550.93 L1122.70 546.76 L1124.78 542.58 L1126.87 538.38 L1128.95 534.17 L1131.04 529.94 L1133.12 525.70 L1135.21 521.44 L1137.29 517.17 L1139.38 512.89 L1141.46 508.59 L1143.55 504.28 L1145.63 499.96 L1147.72 495.63 L1149.81 491.29 L1151.89 486.93 L1153.98 482.57 L1156.06 478.20 L1158.15 473.82 L1160.23 469.43 L1162.32 465.03 L1164.40 460.62 L1166.49 456.21 L1168.57 451.79 L1170.66 447.37 L1172.74 442.95 L1174.83 438.52 L1176.91 434.08 L1179.00 429.65 L1181.08 425.21 L1183.17 420.77 L1185.25 416.34 L1187.34 411.90 L1189.42 407.46 L1191.51 403.03 L1193.60 398.60 L1195.68 394.18 L1197.77 389.76 L1199.85 385.34 L1201.94 380.93 L1204.02 376.53 L1206.11 372.14 L1208.19 367.76 L1210.28 363.39 L1212.36 359.04 L1214.45 354.69 L1216.53 350.36 L1218.62 346.04 L1220.70 341.74 L1222.79 337.46 L1224.87 333.20 L1226.96 328.95 L1229.04 324.73 L1231.13 320.53 L1233.22 316.35 L1235.30 312.20 L1237.39 308.07 L1239.47 303.97 L1241.56 299.89 L1243.64 295.85 L1245.73 291.84 L1247.81 287.86 L1249.90 283.91 L1251.98 280.00 L1254.07 276.12 L1256.15 272.29 L1258.24 268.49 L1260.32 264.73 L1262.41 261.01 L1264.49 257.34 L1266.58 253.71 L1268.66 250.13 L1270.75 246.60 L1272.83 243.12 L1274.92 239.69 L1277.01 236.31 L1279.09 232.98 L1281.18 229.71 L1283.26 226.50 L1285.35 223.35 L1287.43 220.26 L1289.52 217.23 L1291.60 214.26 L1293.69 211.36 L1295.77 208.53 L1297.86 205.77 L1299.94 203.07 L1302.03 200.45 L1304.11 197.90 L1306.20 195.43 L1308.28 193.04 L1310.37 190.72 L1312.45 188.49 L1314.54 186.33 L1316.62 184.26 L1318.71 182.28 L1320.80 180.38 L1322.88 178.58 L1324.97 176.86 L1327.05 175.24 L1329.14 173.70 L1331.22 172.27 L1333.31 170.93 L1335.39 169.69 L1337.48 168.55 L1339.56 167.52 L1341.65 166.58 L1343.73 165.75 L1345.82 165.03 L1347.90 164.42 L1349.99 163.91 L1352.07 163.52 L1354.16 163.24 L1356.24 163.07 L1358.33 163.01 L1360.42 163.08 L1362.50 163.26 L1364.59 163.56 L1366.67 163.98 L1368.76 164.53 L1370.84 165.19 L1372.93 165.98 L1375.01 166.90 L1377.10 167.94 L1379.18 169.11 L1381.27 170.40 L1383.35 171.83 L1385.44 173.38 L1387.52 175.07 L1389.61 176.89 L1391.69 178.84 L1393.78 180.92 L1395.86 183.14 L1397.95 185.49 L1400.04 187.97 L1402.12 190.59 L1404.21 193.34 L1406.29 196.24 L1408.38 199.26 L1410.46 202.42 L1412.55 205.72 L1414.63 209.16 L1416.72 212.73 L1418.80 216.43 L1420.89 220.27 L1422.97 224.25 L1425.06 228.36 L1427.14 232.61 L1429.23 236.99 L1431.31 241.50 L1433.40 246.15 L1435.48 250.93 L1437.57 255.83 L1439.65 260.87 L1441.74 266.04 L1443.83 271.34 L1445.91 276.76 L1448.00 282.30 L1450.08 287.98 L1452.17 293.77 L1454.25 299.68 L1456.34 305.72 L1458.42 311.87 L1460.51 318.13 L1462.59 324.51 L1464.68 331.00 L1466.76 337.60 L1468.85 344.31 L1470.93 351.12 L1473.02 358.03 L1475.10 365.05 L1477.19 372.16 L1479.27 379.37 L1481.36 386.66 L1483.44 394.05 L1485.53 401.52 L1487.62 409.08 L1489.70 416.71 L1491.79 424.43 L1493.87 432.22 L1495.96 440.07 L1498.04 448.00 L1500.13 455.99 L1502.21 464.03 L1504.30 472.14 L1506.38 480.30 L1508.47 488.50 L1510.55 496.76 L1512.64 505.05 L1514.72 513.39 L1516.81 521.75 L1518.89 530.15 L1520.98 538.57 L1523.06 547.02 L1525.15 555.49 L1527.24 563.97 L1529.32 572.45 L1531.41 580.95 L1533.49 589.45 L1535.58 597.94 L1537.66 606.44 L1539.75 614.92 L1541.83 623.38 L1543.92 631.83 L1546.00 640.26 L1548.09 648.66 L1550.17 657.02 L1552.26 665.36 L1554.34 673.66 L1556.43 681.91 L1558.51 690.12 L1560.60 698.28 L1562.68 706.39 L1564.77 714.44 L1566.86 722.43 L1568.94 730.35 L1571.03 738.21 L1573.11 745.99 L1575.20 753.70 L1577.28 761.34 L1579.37 768.89 L1581.45 776.36 L1583.54 783.74 L1585.62 791.03 L1587.71 798.23 L1589.79 805.33 L1591.88 812.33 L1593.96 819.24 L1596.05 826.04 L1598.13 832.74 L1600.22 839.33 L1602.30 845.81 L1604.39 852.18 L1606.47 858.44 L1608.56 864.58 L1610.65 870.61 L1612.73 876.52 L1614.82 882.32 L1616.90 887.99 L1618.99 893.55 L1621.07 898.98 L1623.16 904.29 L1625.24 909.49 L1627.33 914.55 L1629.41 919.50 L1631.50 924.32 L1633.58 929.03 L1635.67 933.60 L1637.75 938.06 L1639.84 942.39 L1641.92 946.61 L1644.01 950.70 L1646.09 954.67 L1648.18 958.52 L1650.27 962.26 L1652.35 965.88 L1654.44 969.38 L1656.52 972.77 L1658.61 976.04 L1660.69 979.20 L1662.78 982.26 L1664.86 985.20 L1666.95 988.04 L1669.03 990.77 L1671.12 993.40 L1673.20 995.93 L1675.29 998.36 L1677.37 1000.69 L1679.46 1002.92 L1681.54 1005.07 L1683.63 1007.12 L1685.71 1009.08 L1687.80 1010.96 L1689.88 1012.75 L1691.97 1014.47 L1694.06 1016.10 L1696.14 1017.65 L1698.23 1019.14 L1700.31 1020.54 L1702.40 1021.88 L1704.48 1023.15 L1706.57 1024.36 L1708.65 1025.50 L1710.74 1026.58 L1712.82 1027.60 L1714.91 1028.57 L1716.99 1029.48 L1719.08 1030.34 L1721.16 1031.15 L1723.25 1031.92 L1725.33 1032.63 L1727.42 1033.31 L1729.50 1033.94 L1731.59 1034.53 L1733.67 1035.09 L1735.76 1035.61 L1737.85 1036.09 L1739.93 1036.55 L1742.02 1036.97 L1744.10 1037.36 L1746.19 1037.73 L1748.27 1038.07 L1750.36 1038.38 L1752.44 1038.67 L1754.53 1038.94 L1756.61 1039.20 L1758.70 1039.43 L1760.78 1039.64 L1762.87 1039.84 L1764.95 1040.02 L1767.04 1040.18 L1769.12 1040.34 L1771.21 1040.48 L1773.29 1040.60 L1775.38 1040.72 L1777.47 1040.83 L1779.55 1040.93 L1781.64 1041.01 L1783.72 1041.09 L1785.81 1041.17 L1787.89 1041.23 L1789.98 1041.29 L1792.06 1041.35 L1794.15 1041.40 L1796.23 1041.44 L1798.32 1041.48 L1800.40 1041.52 L1802.49 1041.55 L1804.57 1041.58 L1806.66 1041.61 L1808.74 1041.63 L1810.83 1041.65 L1812.91 1041.67 L1815.00 1041.68 L1817.09 1041.70 L1819.17 1041.71 L1821.26 1041.72 L1823.34 1041.73 L1825.43 1041.74 L1827.51 1041.75 L1829.60 1041.76 L1831.68 1041.76 L1833.77 1041.77 L1835.85 1041.77 L1837.94 1041.78 L1840.02 1041.78 L1842.11 1041.78 L1844.19 1041.78 L1846.28 1041.79 L1848.36 1041.79 L1850.45 1041.79 L1852.53 1041.79 L1854.62 1041.79 L1856.70 1041.79 L1858.79 1041.80 L1860.88 1041.80 L1862.96 1041.80 L1865.05 1041.80 L1867.13 1041.80 L1869.22 1041.80 L1871.30 1041.80 L1873.39 1041.80 L1875.47 1041.80 L1877.56 1041.80 L1879.64 1041.80 L1881.73 1041.80 L1883.81 1041.80 L1885.90 1041.80 L1887.98 1041.80 L1890.07 1041.80 L1892.15 1041.80 L1894.24 1041.80 L1896.32 1041.80 L1898.41 1041.80 L1900.50 1041.80 L1902.58 1041.80 L1904.67 1041.80 L1906.75 1041.80 L1908.84 1041.80 L1910.92 1041.80 L1913.01 1041.80 L1915.09 1041.80 L1917.18 1041.80 L1919.26 1041.80 L1921.35 1041.80 L1923.43 1041.80 L1925.52 1041.80 L1927.60 1041.80 L1929.69 1041.80 L1931.77 1041.80 L1933.86 1041.80 L1935.94 1041.80 L1938.03 1041.80 L1940.11 1041.80 L1942.20 1041.80" stroke="#f00" stroke-width="4.90" fill="none"/>
</g></g>
<path d="M1942.20 62.60 V1045.50" stroke="#f00" stroke-width="8.2" fill="none"/>
<g stroke="#000" stroke-width="2.45" fill="none">
<path d="M1942.20 1041.80 H1968.00"/>
<path d="M1942.20 960.51 H1955.80"/>
<path d="M1942.20 879.22 H1968.00"/>
<path d="M1942.20 797.92 H1955.80"/>
<path d="M1942.20 716.63 H1968.00"/>
<path d="M1942.20 635.34 H1955.80"/>
<path d="M1942.20 554.05 H1968.00"/>
<path d="M1942.20 472.76 H1955.80"/>
<path d="M1942.20 391.47 H1968.00"/>
<path d="M1942.20 310.17 H1955.80"/>
<path d="M1942.20 228.88 H1968.00"/>
<path d="M1942.20 147.59 H1955.80"/>
<path d="M1942.20 66.30 H1968.00"/>
</g>
<path d="M1942.20 62.60 V40.50 M1942.20 1045.50 V1067.60" stroke="#6e6e6e" stroke-width="4.4" fill="none"/>
<path d="M545.1 118.8 H293.5" stroke="#000" stroke-width="7.4" stroke-dasharray="58.85 29.42" fill="none"/>
<path d="M559.9 183.6 H300" stroke="#000" stroke-width="9.8" stroke-dasharray="9.81 39.23" fill="none"/>
<path d="M545.1 248.3 H294.6" stroke="#000" stroke-width="7.4" stroke-dasharray="58.85 29.42 7.36 29.42" fill="none"/>
<path d="M545.5 312.9 H295" stroke="#000" stroke-width="4.9" fill="none"/>
<text x="573.3" y="139.7" font-size="58.8">Te = 3km</text>
<text x="573.3" y="204.4" font-size="58.8">Te = 5km</text>
<text x="573.3" y="269.1" font-size="58.8">Te = 10km</text>
<text x="573.3" y="333.8" font-size="58.8">Te = 25km</text>
<text transform="translate(224.2 1064.4) scale(1 1.055)" font-size="58.8" text-anchor="end">0</text>
<text transform="translate(224.2 925.0) scale(1 1.055)" font-size="58.8" text-anchor="end">10</text>
<text transform="translate(224.2 785.7) scale(1 1.055)" font-size="58.8" text-anchor="end">20</text>
<text transform="translate(224.2 646.3) scale(1 1.055)" font-size="58.8" text-anchor="end">30</text>
<text transform="translate(224.2 507.0) scale(1 1.055)" font-size="58.8" text-anchor="end">40</text>
<text transform="translate(224.2 367.6) scale(1 1.055)" font-size="58.8" text-anchor="end">50</text>
<text transform="translate(224.2 228.3) scale(1 1.055)" font-size="58.8" text-anchor="end">60</text>
<text transform="translate(224.2 88.9) scale(1 1.055)" font-size="58.8" text-anchor="end">70</text>
<text transform="translate(2055 1064.4) scale(1 1.055)" font-size="58.8" text-anchor="end">0</text>
<text transform="translate(2055 901.8) scale(1 1.055)" font-size="58.8" text-anchor="end">2</text>
<text transform="translate(2055 739.2) scale(1 1.055)" font-size="58.8" text-anchor="end">4</text>
<text transform="translate(2055 576.6) scale(1 1.055)" font-size="58.8" text-anchor="end">6</text>
<text transform="translate(2055 414.1) scale(1 1.055)" font-size="58.8" text-anchor="end">8</text>
<text transform="translate(2055 251.5) scale(1 1.055)" font-size="58.8" text-anchor="end">10</text>
<text transform="translate(2055 88.9) scale(1 1.055)" font-size="58.8" text-anchor="end">12</text>
<text transform="translate(274.0 1141.4) scale(1 1.055)" font-size="58.8" text-anchor="middle">10<tspan font-size="41.2" dy="-18.4">−4</tspan></text>
<text transform="translate(691.0 1141.4) scale(1 1.055)" font-size="58.8" text-anchor="middle">10<tspan font-size="41.2" dy="-18.4">−3</tspan></text>
<text transform="translate(1108.1 1141.4) scale(1 1.055)" font-size="58.8" text-anchor="middle">10<tspan font-size="41.2" dy="-18.4">−2</tspan></text>
<text transform="translate(1525.2 1141.4) scale(1 1.055)" font-size="58.8" text-anchor="middle">10<tspan font-size="41.2" dy="-18.4">−1</tspan></text>
<text transform="translate(1942.2 1141.4) scale(1 1.055)" font-size="58.8" text-anchor="middle">10<tspan font-size="41.2" dy="-18.4">0</tspan></text>
<text class="big" x="1108" y="1237.6" font-size="78.5" text-anchor="middle">1/<tspan font-family="'Liberation Serif',serif" font-size="84">λ</tspan> (1/km)</text>
<text class="big" transform="translate(121.2 552.0) rotate(-90)" font-size="78.5" text-anchor="middle">Z<tspan font-size="54.9" dy="20.5">topo-grav</tspan><tspan dy="-20.5">(k) (mGal/km)</tspan></text>
<text class="big" transform="translate(2152.5 552.0) rotate(-90)" font-size="78.5" text-anchor="middle">Z<tspan font-size="54.9" dy="20.5">topo-grad</tspan><tspan dy="-20.5">(k) (E/km)</tspan></text>
</g></svg></body></html>
